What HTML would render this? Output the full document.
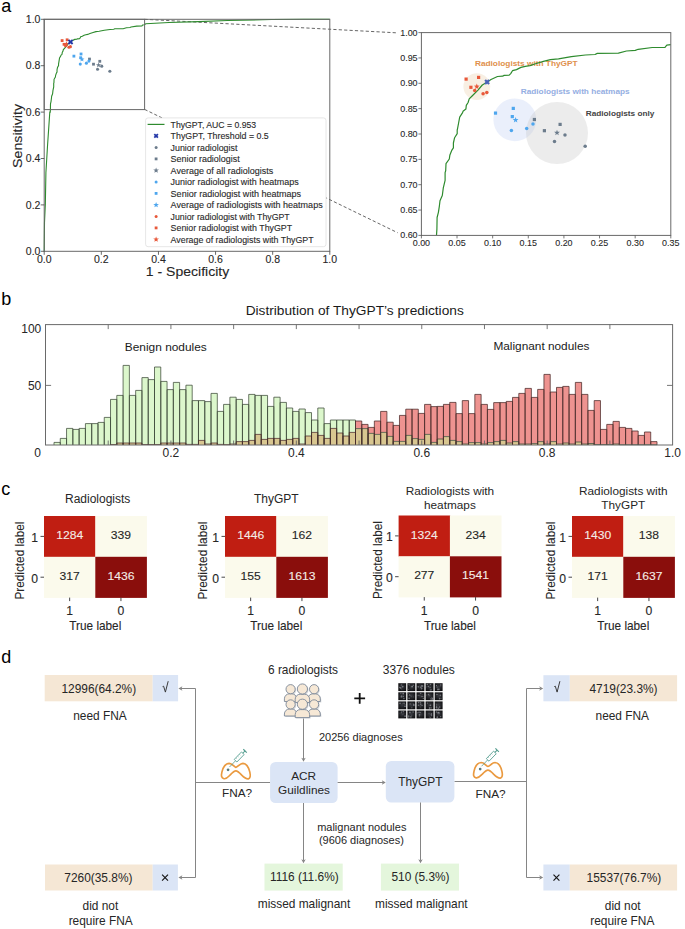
<!DOCTYPE html>
<html><head><meta charset="utf-8"><style>
html,body{margin:0;padding:0;background:#fff;}
svg{display:block;}
text{font-family:"Liberation Sans", sans-serif;}
</style></head><body>
<svg width="685" height="929" viewBox="0 0 685 929">
<rect width="685" height="929" fill="#fff"/>
<text x="1.20" y="11.70" font-size="18" fill="#000" >a</text>
<text x="1.20" y="305.30" font-size="18" fill="#000" >b</text>
<text x="1.20" y="495.30" font-size="18" fill="#000" >c</text>
<text x="1.20" y="663.30" font-size="18" fill="#000" >d</text>
<line x1="144.60" y1="19.30" x2="398.00" y2="32.90" stroke="#555" stroke-width="0.9" stroke-dasharray="3.2,2.2"/>
<line x1="144.60" y1="109.40" x2="397.60" y2="232.70" stroke="#555" stroke-width="0.9" stroke-dasharray="3.2,2.2"/>
<polyline points="44.20,251.30 44.49,222.76 45.34,203.97 45.91,172.65 47.54,145.51 49.80,112.10 50.25,112.10 50.41,109.22 50.49,103.91 51.01,101.53 51.41,98.56 51.65,96.22 52.58,93.84 52.98,90.32 53.70,86.89 53.70,83.36 53.94,82.54 54.06,79.29 55.38,77.14 55.62,75.26 56.42,73.07 57.03,72.01 57.03,69.82 57.51,67.39 58.55,65.52 58.55,63.87 58.67,63.32 59.11,60.67 59.55,57.97 60.71,55.95 60.87,55.31 62.04,54.31 62.20,52.61 62.92,51.29 63.36,49.64 64.52,48.31 66.89,45.61 68.61,43.28 70.61,41.91 72.10,40.76 74.70,39.39 76.75,39.25 77.35,38.89 79.39,38.75 79.99,38.06 80.71,36.73 82.32,36.23 84.08,35.22 85.84,34.72 87.73,34.40 89.93,33.58 93.10,32.48 95.90,31.66 99.15,31.29 104.32,30.33 109.93,29.55 113.78,29.32 114.70,28.82 123.16,28.68 126.40,27.72 129.93,27.45 131.09,26.94 136.71,26.12 141.84,26.03 142.56,25.07 144.20,24.79 145.87,23.71 169.01,22.55 198.42,21.62 227.56,20.46 271.54,19.53 303.52,19.30 329.80,19.30" fill="none" stroke="#2e8b2e" stroke-width="1.1"/>
<rect x="44.2" y="19.3" width="100.4" height="90.3" fill="none" stroke="#686868" stroke-width="1"/>
<rect x="44.20" y="19.30" width="285.60" height="232.00" fill="none" stroke="#686868" stroke-width="1" rx="0" />
<line x1="44.20" y1="251.30" x2="44.20" y2="254.80" stroke="#444" stroke-width="0.8" />
<line x1="40.70" y1="251.30" x2="44.20" y2="251.30" stroke="#444" stroke-width="0.8" />
<text x="44.20" y="262.60" font-size="10.6" text-anchor="middle" textLength="14.60" lengthAdjust="spacingAndGlyphs" fill="#262626" stroke="#262626" stroke-width="0.1">0.0</text>
<text x="40.40" y="255.00" font-size="10.6" text-anchor="end" textLength="14.60" lengthAdjust="spacingAndGlyphs" fill="#262626" stroke="#262626" stroke-width="0.1">0.0</text>
<line x1="101.32" y1="251.30" x2="101.32" y2="254.80" stroke="#444" stroke-width="0.8" />
<line x1="40.70" y1="204.90" x2="44.20" y2="204.90" stroke="#444" stroke-width="0.8" />
<text x="101.32" y="262.60" font-size="10.6" text-anchor="middle" textLength="14.60" lengthAdjust="spacingAndGlyphs" fill="#262626" stroke="#262626" stroke-width="0.1">0.2</text>
<text x="40.40" y="208.60" font-size="10.6" text-anchor="end" textLength="14.60" lengthAdjust="spacingAndGlyphs" fill="#262626" stroke="#262626" stroke-width="0.1">0.2</text>
<line x1="158.44" y1="251.30" x2="158.44" y2="254.80" stroke="#444" stroke-width="0.8" />
<line x1="40.70" y1="158.50" x2="44.20" y2="158.50" stroke="#444" stroke-width="0.8" />
<text x="158.44" y="262.60" font-size="10.6" text-anchor="middle" textLength="14.60" lengthAdjust="spacingAndGlyphs" fill="#262626" stroke="#262626" stroke-width="0.1">0.4</text>
<text x="40.40" y="162.20" font-size="10.6" text-anchor="end" textLength="14.60" lengthAdjust="spacingAndGlyphs" fill="#262626" stroke="#262626" stroke-width="0.1">0.4</text>
<line x1="215.56" y1="251.30" x2="215.56" y2="254.80" stroke="#444" stroke-width="0.8" />
<line x1="40.70" y1="112.10" x2="44.20" y2="112.10" stroke="#444" stroke-width="0.8" />
<text x="215.56" y="262.60" font-size="10.6" text-anchor="middle" textLength="14.60" lengthAdjust="spacingAndGlyphs" fill="#262626" stroke="#262626" stroke-width="0.1">0.6</text>
<text x="40.40" y="115.80" font-size="10.6" text-anchor="end" textLength="14.60" lengthAdjust="spacingAndGlyphs" fill="#262626" stroke="#262626" stroke-width="0.1">0.6</text>
<line x1="272.68" y1="251.30" x2="272.68" y2="254.80" stroke="#444" stroke-width="0.8" />
<line x1="40.70" y1="65.70" x2="44.20" y2="65.70" stroke="#444" stroke-width="0.8" />
<text x="272.68" y="262.60" font-size="10.6" text-anchor="middle" textLength="14.60" lengthAdjust="spacingAndGlyphs" fill="#262626" stroke="#262626" stroke-width="0.1">0.8</text>
<text x="40.40" y="69.40" font-size="10.6" text-anchor="end" textLength="14.60" lengthAdjust="spacingAndGlyphs" fill="#262626" stroke="#262626" stroke-width="0.1">0.8</text>
<line x1="329.80" y1="251.30" x2="329.80" y2="254.80" stroke="#444" stroke-width="0.8" />
<line x1="40.70" y1="19.30" x2="44.20" y2="19.30" stroke="#444" stroke-width="0.8" />
<text x="329.80" y="262.60" font-size="10.6" text-anchor="middle" textLength="14.60" lengthAdjust="spacingAndGlyphs" fill="#262626" stroke="#262626" stroke-width="0.1">1.0</text>
<text x="40.40" y="23.00" font-size="10.6" text-anchor="end" textLength="14.60" lengthAdjust="spacingAndGlyphs" fill="#262626" stroke="#262626" stroke-width="0.1">1.0</text>
<text x="187.50" y="275.70" font-size="13.2" text-anchor="middle" textLength="83.50" lengthAdjust="spacingAndGlyphs" fill="#262626" stroke="#262626" stroke-width="0.1">1 - Specificity</text>
<text x="22.20" y="136.00" font-size="13.2" text-anchor="middle" textLength="64.00" lengthAdjust="spacingAndGlyphs" transform="rotate(-90 22.20 136.00)" fill="#262626" stroke="#262626" stroke-width="0.1">Sensitivity</text>
<rect x="88.09" y="57.66" width="2.80" height="2.80" fill="#6c7c8c" stroke="none" stroke-width="0" rx="0" />
<rect x="92.10" y="62.79" width="2.80" height="2.80" fill="#6c7c8c" stroke="none" stroke-width="0" rx="0" />
<rect x="98.39" y="59.91" width="2.80" height="2.80" fill="#6c7c8c" stroke="none" stroke-width="0" rx="0" />
<circle cx="101.76" cy="66.16" r="1.54" fill="#6c7c8c"/>
<circle cx="97.55" cy="69.18" r="1.54" fill="#6c7c8c"/>
<circle cx="109.85" cy="71.33" r="1.54" fill="#6c7c8c"/>
<path d="M98.55,62.49 L99.21,64.25 L101.08,64.33 L99.61,65.50 L100.11,67.30 L98.55,66.27 L96.99,67.30 L97.49,65.50 L96.02,64.33 L97.89,64.25Z" fill="#6c7c8c"/>
<rect x="72.50" y="54.74" width="2.80" height="2.80" fill="#4ea6ee" stroke="none" stroke-width="0" rx="0" />
<rect x="79.63" y="52.59" width="2.80" height="2.80" fill="#4ea6ee" stroke="none" stroke-width="0" rx="0" />
<rect x="79.23" y="56.34" width="2.80" height="2.80" fill="#4ea6ee" stroke="none" stroke-width="0" rx="0" />
<circle cx="80.27" cy="64.10" r="1.54" fill="#4ea6ee"/>
<circle cx="86.40" cy="63.14" r="1.54" fill="#4ea6ee"/>
<circle cx="88.93" cy="61.12" r="1.54" fill="#4ea6ee"/>
<path d="M81.96,56.63 L82.61,58.39 L84.49,58.47 L83.02,59.64 L83.52,61.45 L81.96,60.41 L80.39,61.45 L80.89,59.64 L79.43,58.47 L81.30,58.39Z" fill="#4ea6ee"/>
<rect x="60.72" y="39.18" width="2.80" height="2.80" fill="#e8583a" stroke="none" stroke-width="0" rx="0" />
<rect x="65.73" y="38.40" width="2.80" height="2.80" fill="#e8583a" stroke="none" stroke-width="0" rx="0" />
<rect x="62.64" y="42.93" width="2.80" height="2.80" fill="#e8583a" stroke="none" stroke-width="0" rx="0" />
<circle cx="65.56" cy="45.79" r="1.54" fill="#e8583a"/>
<circle cx="68.93" cy="47.26" r="1.54" fill="#e8583a"/>
<circle cx="70.41" cy="46.66" r="1.54" fill="#e8583a"/>
<path d="M66.40,41.35 L67.06,43.11 L68.93,43.19 L67.47,44.36 L67.97,46.16 L66.40,45.13 L64.84,46.16 L65.34,44.36 L63.87,43.19 L65.75,43.11Z" fill="#e8583a"/>
<path d="M68.43,39.81 L72.63,44.01 M72.63,39.81 L68.43,44.01" stroke="#2438a8" stroke-width="1.9"/>
<rect x="145.6" y="117.9" width="180.4" height="128.8" rx="2.5" fill="#fff" fill-opacity="1" stroke="#e0e0e0" stroke-width="0.8"/>
<text x="170.60" y="127.60" font-size="9.0" textLength="85.60" lengthAdjust="spacingAndGlyphs" fill="#2a2a2a" stroke="#2a2a2a" stroke-width="0.12">ThyGPT, AUC = 0.953</text>
<line x1="147.60" y1="124.40" x2="164.50" y2="124.40" stroke="#2e8b2e" stroke-width="1.2" />
<text x="170.60" y="139.10" font-size="9.0" textLength="98.17" lengthAdjust="spacingAndGlyphs" fill="#2a2a2a" stroke="#2a2a2a" stroke-width="0.12">ThyGPT, Threshold = 0.5</text>
<path d="M154.30,134.10 L157.90,137.70 M157.90,134.10 L154.30,137.70" stroke="#2438a8" stroke-width="1.8"/>
<text x="170.60" y="150.60" font-size="9.0" textLength="66.75" lengthAdjust="spacingAndGlyphs" fill="#2a2a2a" stroke="#2a2a2a" stroke-width="0.12">Junior radiologist</text>
<circle cx="156.1" cy="147.40" r="1.5" fill="#6c7c8c"/>
<text x="170.60" y="162.10" font-size="9.0" textLength="69.14" lengthAdjust="spacingAndGlyphs" fill="#2a2a2a" stroke="#2a2a2a" stroke-width="0.12">Senior radiologist</text>
<rect x="154.70" y="157.50" width="2.80" height="2.80" fill="#6c7c8c" stroke="none" stroke-width="0" rx="0" />
<text x="170.60" y="173.60" font-size="9.0" textLength="102.66" lengthAdjust="spacingAndGlyphs" fill="#2a2a2a" stroke="#2a2a2a" stroke-width="0.12">Average of all radiologists</text>
<path d="M156.10,167.40 L156.84,169.38 L158.95,169.47 L157.30,170.79 L157.86,172.83 L156.10,171.66 L154.34,172.83 L154.90,170.79 L153.25,169.47 L155.36,169.38Z" fill="#6c7c8c"/>
<text x="170.60" y="185.10" font-size="9.0" textLength="128.11" lengthAdjust="spacingAndGlyphs" fill="#2a2a2a" stroke="#2a2a2a" stroke-width="0.12">Junior radiologist with heatmaps</text>
<circle cx="156.1" cy="181.90" r="1.5" fill="#4ea6ee"/>
<text x="170.60" y="196.60" font-size="9.0" textLength="130.50" lengthAdjust="spacingAndGlyphs" fill="#2a2a2a" stroke="#2a2a2a" stroke-width="0.12">Senior radiologist with heatmaps</text>
<rect x="154.70" y="192.00" width="2.80" height="2.80" fill="#4ea6ee" stroke="none" stroke-width="0" rx="0" />
<text x="170.60" y="208.10" font-size="9.0" textLength="152.05" lengthAdjust="spacingAndGlyphs" fill="#2a2a2a" stroke="#2a2a2a" stroke-width="0.12">Average of radiologists with heatmaps</text>
<path d="M156.10,201.90 L156.84,203.88 L158.95,203.97 L157.30,205.29 L157.86,207.33 L156.10,206.16 L154.34,207.33 L154.90,205.29 L153.25,203.97 L155.36,203.88Z" fill="#4ea6ee"/>
<text x="170.60" y="219.60" font-size="9.0" textLength="119.13" lengthAdjust="spacingAndGlyphs" fill="#2a2a2a" stroke="#2a2a2a" stroke-width="0.12">Junior radiologist with ThyGPT</text>
<circle cx="156.1" cy="216.40" r="1.5" fill="#e8583a"/>
<text x="170.60" y="231.10" font-size="9.0" textLength="121.52" lengthAdjust="spacingAndGlyphs" fill="#2a2a2a" stroke="#2a2a2a" stroke-width="0.12">Senior radiologist with ThyGPT</text>
<rect x="154.70" y="226.50" width="2.80" height="2.80" fill="#e8583a" stroke="none" stroke-width="0" rx="0" />
<text x="170.60" y="242.60" font-size="9.0" textLength="143.07" lengthAdjust="spacingAndGlyphs" fill="#2a2a2a" stroke="#2a2a2a" stroke-width="0.12">Average of radiologists with ThyGPT</text>
<path d="M156.10,236.40 L156.84,238.38 L158.95,238.47 L157.30,239.79 L157.86,241.83 L156.10,240.66 L154.34,241.83 L154.90,239.79 L153.25,238.47 L155.36,238.38Z" fill="#e8583a"/>
<clipPath id="ic"><rect x="421.4" y="32.6" width="249.4" height="202.8"/></clipPath>
<g clip-path="url(#ic)">
<circle cx="514.8" cy="119.8" r="21.4" fill="#c4d3f3" fill-opacity="0.36"/>
<circle cx="557" cy="133" r="31" fill="#c4c4c4" fill-opacity="0.32"/>
<circle cx="476.8" cy="86.6" r="13.4" fill="#f0dcc2" fill-opacity="0.45"/>
<text x="474.90" y="65.70" font-size="8.0" textLength="102.80" lengthAdjust="spacingAndGlyphs" font-weight="bold" fill="#e0904c" >Radiologists with ThyGPT</text>
<text x="520.80" y="93.90" font-size="8.0" textLength="108.80" lengthAdjust="spacingAndGlyphs" font-weight="bold" fill="#94aee2" >Radiologists with heatmaps</text>
<text x="585.70" y="116.40" font-size="8.0" textLength="68.70" lengthAdjust="spacingAndGlyphs" font-weight="bold" fill="#444" >Radiologists only</text>
<polyline points="436.50,235.40 436.90,229.10 437.10,217.50 438.40,212.30 439.40,205.80 440.00,200.70 442.30,195.50 443.30,187.80 445.10,180.30 445.10,172.60 445.70,170.80 446.00,163.70 449.30,159.00 449.90,154.90 451.90,150.10 453.40,147.80 453.40,143.00 454.60,137.70 457.20,133.60 457.20,130.00 457.50,128.80 458.60,123.00 459.70,117.10 462.60,112.70 463.00,111.30 465.90,109.10 466.30,105.40 468.10,102.50 469.20,98.90 472.10,96.00 478.00,90.10 482.30,85.00 487.30,82.00 491.00,79.50 497.50,76.50 502.60,76.20 504.10,75.40 509.20,75.10 510.70,73.60 512.50,70.70 516.50,69.60 520.90,67.40 525.30,66.30 530.00,65.60 535.50,63.80 543.40,61.40 550.40,59.60 558.50,58.80 571.40,56.70 585.40,55.00 595.00,54.50 597.30,53.40 618.40,53.10 626.50,51.00 635.30,50.40 638.20,49.30 652.20,47.50 665.00,47.30 666.80,45.20 670.90,44.60" fill="none" stroke="#2e8b2e" stroke-width="1.2" stroke-linejoin="round"/>
</g>
<rect x="532.80" y="117.90" width="3.20" height="3.20" fill="#6c7c8c" stroke="none" stroke-width="0" rx="0" />
<rect x="542.80" y="129.10" width="3.20" height="3.20" fill="#6c7c8c" stroke="none" stroke-width="0" rx="0" />
<rect x="558.50" y="122.80" width="3.20" height="3.20" fill="#6c7c8c" stroke="none" stroke-width="0" rx="0" />
<circle cx="565.00" cy="135.00" r="1.76" fill="#6c7c8c"/>
<circle cx="554.50" cy="141.60" r="1.76" fill="#6c7c8c"/>
<circle cx="585.20" cy="146.30" r="1.76" fill="#6c7c8c"/>
<path d="M557.00,129.76 L557.75,131.77 L559.89,131.86 L558.21,133.19 L558.79,135.26 L557.00,134.08 L555.21,135.26 L555.79,133.19 L554.11,131.86 L556.25,131.77Z" fill="#6c7c8c"/>
<rect x="493.90" y="111.50" width="3.20" height="3.20" fill="#4ea6ee" stroke="none" stroke-width="0" rx="0" />
<rect x="511.70" y="106.80" width="3.20" height="3.20" fill="#4ea6ee" stroke="none" stroke-width="0" rx="0" />
<rect x="510.70" y="115.00" width="3.20" height="3.20" fill="#4ea6ee" stroke="none" stroke-width="0" rx="0" />
<circle cx="511.40" cy="130.50" r="1.76" fill="#4ea6ee"/>
<circle cx="526.70" cy="128.40" r="1.76" fill="#4ea6ee"/>
<circle cx="533.00" cy="124.00" r="1.76" fill="#4ea6ee"/>
<path d="M515.60,116.96 L516.35,118.97 L518.49,119.06 L516.81,120.39 L517.39,122.46 L515.60,121.28 L513.81,122.46 L514.39,120.39 L512.71,119.06 L514.85,118.97Z" fill="#4ea6ee"/>
<rect x="464.50" y="77.50" width="3.20" height="3.20" fill="#e8583a" stroke="none" stroke-width="0" rx="0" />
<rect x="477.00" y="75.80" width="3.20" height="3.20" fill="#e8583a" stroke="none" stroke-width="0" rx="0" />
<rect x="469.30" y="85.70" width="3.20" height="3.20" fill="#e8583a" stroke="none" stroke-width="0" rx="0" />
<circle cx="474.70" cy="90.50" r="1.76" fill="#e8583a"/>
<circle cx="483.10" cy="93.70" r="1.76" fill="#e8583a"/>
<circle cx="486.80" cy="92.40" r="1.76" fill="#e8583a"/>
<path d="M476.80,83.56 L477.55,85.57 L479.69,85.66 L478.01,86.99 L478.59,89.06 L476.80,87.88 L475.01,89.06 L475.59,86.99 L473.91,85.66 L476.05,85.57Z" fill="#e8583a"/>
<path d="M485.10,80.00 L489.10,84.00 M489.10,80.00 L485.10,84.00" stroke="#4860b8" stroke-width="2.2"/>
<rect x="421.40" y="32.60" width="249.40" height="202.80" fill="none" stroke="#686868" stroke-width="1" rx="0" />
<line x1="421.40" y1="235.40" x2="421.40" y2="238.40" stroke="#555" stroke-width="0.8" />
<text x="421.40" y="245.70" font-size="8.4" text-anchor="middle" textLength="17.40" lengthAdjust="spacingAndGlyphs" fill="#262626" stroke="#262626" stroke-width="0.08">0.00</text>
<line x1="457.03" y1="235.40" x2="457.03" y2="238.40" stroke="#555" stroke-width="0.8" />
<text x="457.03" y="245.70" font-size="8.4" text-anchor="middle" textLength="17.40" lengthAdjust="spacingAndGlyphs" fill="#262626" stroke="#262626" stroke-width="0.08">0.05</text>
<line x1="492.66" y1="235.40" x2="492.66" y2="238.40" stroke="#555" stroke-width="0.8" />
<text x="492.66" y="245.70" font-size="8.4" text-anchor="middle" textLength="17.40" lengthAdjust="spacingAndGlyphs" fill="#262626" stroke="#262626" stroke-width="0.08">0.10</text>
<line x1="528.29" y1="235.40" x2="528.29" y2="238.40" stroke="#555" stroke-width="0.8" />
<text x="528.29" y="245.70" font-size="8.4" text-anchor="middle" textLength="17.40" lengthAdjust="spacingAndGlyphs" fill="#262626" stroke="#262626" stroke-width="0.08">0.15</text>
<line x1="563.91" y1="235.40" x2="563.91" y2="238.40" stroke="#555" stroke-width="0.8" />
<text x="563.91" y="245.70" font-size="8.4" text-anchor="middle" textLength="17.40" lengthAdjust="spacingAndGlyphs" fill="#262626" stroke="#262626" stroke-width="0.08">0.20</text>
<line x1="599.54" y1="235.40" x2="599.54" y2="238.40" stroke="#555" stroke-width="0.8" />
<text x="599.54" y="245.70" font-size="8.4" text-anchor="middle" textLength="17.40" lengthAdjust="spacingAndGlyphs" fill="#262626" stroke="#262626" stroke-width="0.08">0.25</text>
<line x1="635.17" y1="235.40" x2="635.17" y2="238.40" stroke="#555" stroke-width="0.8" />
<text x="635.17" y="245.70" font-size="8.4" text-anchor="middle" textLength="17.40" lengthAdjust="spacingAndGlyphs" fill="#262626" stroke="#262626" stroke-width="0.08">0.30</text>
<line x1="670.80" y1="235.40" x2="670.80" y2="238.40" stroke="#555" stroke-width="0.8" />
<text x="670.80" y="245.70" font-size="8.4" text-anchor="middle" textLength="17.40" lengthAdjust="spacingAndGlyphs" fill="#262626" stroke="#262626" stroke-width="0.08">0.35</text>
<line x1="418.40" y1="235.40" x2="421.40" y2="235.40" stroke="#555" stroke-width="0.8" />
<text x="417.60" y="238.40" font-size="8.4" text-anchor="end" textLength="17.40" lengthAdjust="spacingAndGlyphs" fill="#262626" stroke="#262626" stroke-width="0.08">0.60</text>
<line x1="418.40" y1="210.05" x2="421.40" y2="210.05" stroke="#555" stroke-width="0.8" />
<text x="417.60" y="213.05" font-size="8.4" text-anchor="end" textLength="17.40" lengthAdjust="spacingAndGlyphs" fill="#262626" stroke="#262626" stroke-width="0.08">0.65</text>
<line x1="418.40" y1="184.70" x2="421.40" y2="184.70" stroke="#555" stroke-width="0.8" />
<text x="417.60" y="187.70" font-size="8.4" text-anchor="end" textLength="17.40" lengthAdjust="spacingAndGlyphs" fill="#262626" stroke="#262626" stroke-width="0.08">0.70</text>
<line x1="418.40" y1="159.35" x2="421.40" y2="159.35" stroke="#555" stroke-width="0.8" />
<text x="417.60" y="162.35" font-size="8.4" text-anchor="end" textLength="17.40" lengthAdjust="spacingAndGlyphs" fill="#262626" stroke="#262626" stroke-width="0.08">0.75</text>
<line x1="418.40" y1="134.00" x2="421.40" y2="134.00" stroke="#555" stroke-width="0.8" />
<text x="417.60" y="137.00" font-size="8.4" text-anchor="end" textLength="17.40" lengthAdjust="spacingAndGlyphs" fill="#262626" stroke="#262626" stroke-width="0.08">0.80</text>
<line x1="418.40" y1="108.65" x2="421.40" y2="108.65" stroke="#555" stroke-width="0.8" />
<text x="417.60" y="111.65" font-size="8.4" text-anchor="end" textLength="17.40" lengthAdjust="spacingAndGlyphs" fill="#262626" stroke="#262626" stroke-width="0.08">0.85</text>
<line x1="418.40" y1="83.30" x2="421.40" y2="83.30" stroke="#555" stroke-width="0.8" />
<text x="417.60" y="86.30" font-size="8.4" text-anchor="end" textLength="17.40" lengthAdjust="spacingAndGlyphs" fill="#262626" stroke="#262626" stroke-width="0.08">0.90</text>
<line x1="418.40" y1="57.95" x2="421.40" y2="57.95" stroke="#555" stroke-width="0.8" />
<text x="417.60" y="60.95" font-size="8.4" text-anchor="end" textLength="17.40" lengthAdjust="spacingAndGlyphs" fill="#262626" stroke="#262626" stroke-width="0.08">0.95</text>
<line x1="418.40" y1="32.60" x2="421.40" y2="32.60" stroke="#555" stroke-width="0.8" />
<text x="417.60" y="35.60" font-size="8.4" text-anchor="end" textLength="17.40" lengthAdjust="spacingAndGlyphs" fill="#262626" stroke="#262626" stroke-width="0.08">1.00</text>
<rect x="54.00" y="442.40" width="6.28" height="2.60" fill="#dcf7cc" stroke="none" stroke-width="0" rx="0" />
<rect x="60.28" y="438.40" width="6.28" height="6.60" fill="#dcf7cc" stroke="none" stroke-width="0" rx="0" />
<rect x="66.56" y="428.40" width="6.28" height="16.60" fill="#dcf7cc" stroke="none" stroke-width="0" rx="0" />
<rect x="72.84" y="429.40" width="6.28" height="15.60" fill="#dcf7cc" stroke="none" stroke-width="0" rx="0" />
<rect x="79.12" y="428.40" width="6.28" height="16.60" fill="#dcf7cc" stroke="none" stroke-width="0" rx="0" />
<rect x="85.41" y="423.60" width="6.28" height="21.40" fill="#dcf7cc" stroke="none" stroke-width="0" rx="0" />
<rect x="91.69" y="423.60" width="6.28" height="21.40" fill="#dcf7cc" stroke="none" stroke-width="0" rx="0" />
<rect x="97.97" y="422.40" width="6.28" height="22.60" fill="#dcf7cc" stroke="none" stroke-width="0" rx="0" />
<rect x="104.25" y="417.40" width="6.28" height="27.60" fill="#dcf7cc" stroke="none" stroke-width="0" rx="0" />
<rect x="110.53" y="399.40" width="6.28" height="45.10" fill="#dcf7cc" stroke="none" stroke-width="0" rx="0" />
<rect x="110.53" y="444.50" width="6.28" height="0.50" fill="#d8c690" stroke="none" stroke-width="0" rx="0" />
<rect x="116.81" y="395.40" width="6.28" height="47.60" fill="#dcf7cc" stroke="none" stroke-width="0" rx="0" />
<rect x="116.81" y="443.00" width="6.28" height="2.00" fill="#d8c690" stroke="none" stroke-width="0" rx="0" />
<rect x="123.09" y="365.40" width="6.28" height="77.60" fill="#dcf7cc" stroke="none" stroke-width="0" rx="0" />
<rect x="123.09" y="443.00" width="6.28" height="2.00" fill="#d8c690" stroke="none" stroke-width="0" rx="0" />
<rect x="129.38" y="395.40" width="6.28" height="47.60" fill="#dcf7cc" stroke="none" stroke-width="0" rx="0" />
<rect x="129.38" y="443.00" width="6.28" height="2.00" fill="#d8c690" stroke="none" stroke-width="0" rx="0" />
<rect x="135.66" y="390.40" width="6.28" height="52.60" fill="#dcf7cc" stroke="none" stroke-width="0" rx="0" />
<rect x="135.66" y="443.00" width="6.28" height="2.00" fill="#d8c690" stroke="none" stroke-width="0" rx="0" />
<rect x="141.94" y="377.60" width="6.28" height="66.90" fill="#dcf7cc" stroke="none" stroke-width="0" rx="0" />
<rect x="141.94" y="444.50" width="6.28" height="0.50" fill="#d8c690" stroke="none" stroke-width="0" rx="0" />
<rect x="148.22" y="379.60" width="6.28" height="64.90" fill="#dcf7cc" stroke="none" stroke-width="0" rx="0" />
<rect x="148.22" y="444.50" width="6.28" height="0.50" fill="#d8c690" stroke="none" stroke-width="0" rx="0" />
<rect x="154.50" y="367.00" width="6.28" height="77.50" fill="#dcf7cc" stroke="none" stroke-width="0" rx="0" />
<rect x="154.50" y="444.50" width="6.28" height="0.50" fill="#d8c690" stroke="none" stroke-width="0" rx="0" />
<rect x="160.78" y="381.40" width="6.28" height="61.60" fill="#dcf7cc" stroke="none" stroke-width="0" rx="0" />
<rect x="160.78" y="443.00" width="6.28" height="2.00" fill="#d8c690" stroke="none" stroke-width="0" rx="0" />
<rect x="167.06" y="389.60" width="6.28" height="53.40" fill="#dcf7cc" stroke="none" stroke-width="0" rx="0" />
<rect x="167.06" y="443.00" width="6.28" height="2.00" fill="#d8c690" stroke="none" stroke-width="0" rx="0" />
<rect x="173.34" y="382.40" width="6.28" height="60.60" fill="#dcf7cc" stroke="none" stroke-width="0" rx="0" />
<rect x="173.34" y="443.00" width="6.28" height="2.00" fill="#d8c690" stroke="none" stroke-width="0" rx="0" />
<rect x="179.62" y="389.60" width="6.28" height="53.40" fill="#dcf7cc" stroke="none" stroke-width="0" rx="0" />
<rect x="179.62" y="443.00" width="6.28" height="2.00" fill="#d8c690" stroke="none" stroke-width="0" rx="0" />
<rect x="185.91" y="385.20" width="6.28" height="59.20" fill="#dcf7cc" stroke="none" stroke-width="0" rx="0" />
<rect x="185.91" y="444.40" width="6.28" height="0.60" fill="#d8c690" stroke="none" stroke-width="0" rx="0" />
<rect x="192.19" y="400.60" width="6.28" height="43.80" fill="#dcf7cc" stroke="none" stroke-width="0" rx="0" />
<rect x="192.19" y="444.40" width="6.28" height="0.60" fill="#d8c690" stroke="none" stroke-width="0" rx="0" />
<rect x="198.47" y="400.60" width="6.28" height="39.80" fill="#dcf7cc" stroke="none" stroke-width="0" rx="0" />
<rect x="198.47" y="440.40" width="6.28" height="4.60" fill="#d8c690" stroke="none" stroke-width="0" rx="0" />
<rect x="204.75" y="401.60" width="6.28" height="42.40" fill="#dcf7cc" stroke="none" stroke-width="0" rx="0" />
<rect x="204.75" y="444.00" width="6.28" height="1.00" fill="#d8c690" stroke="none" stroke-width="0" rx="0" />
<rect x="211.03" y="393.40" width="6.28" height="49.60" fill="#dcf7cc" stroke="none" stroke-width="0" rx="0" />
<rect x="211.03" y="443.00" width="6.28" height="2.00" fill="#d8c690" stroke="none" stroke-width="0" rx="0" />
<rect x="217.31" y="411.40" width="6.28" height="33.00" fill="#dcf7cc" stroke="none" stroke-width="0" rx="0" />
<rect x="217.31" y="444.40" width="6.28" height="0.60" fill="#d8c690" stroke="none" stroke-width="0" rx="0" />
<rect x="223.59" y="404.40" width="6.28" height="40.20" fill="#dcf7cc" stroke="none" stroke-width="0" rx="0" />
<rect x="223.59" y="444.60" width="6.28" height="0.40" fill="#d8c690" stroke="none" stroke-width="0" rx="0" />
<rect x="229.88" y="397.20" width="6.28" height="46.80" fill="#dcf7cc" stroke="none" stroke-width="0" rx="0" />
<rect x="229.88" y="444.00" width="6.28" height="1.00" fill="#d8c690" stroke="none" stroke-width="0" rx="0" />
<rect x="236.16" y="399.40" width="6.28" height="42.20" fill="#dcf7cc" stroke="none" stroke-width="0" rx="0" />
<rect x="236.16" y="441.60" width="6.28" height="3.40" fill="#d8c690" stroke="none" stroke-width="0" rx="0" />
<rect x="242.44" y="404.40" width="6.28" height="37.20" fill="#dcf7cc" stroke="none" stroke-width="0" rx="0" />
<rect x="242.44" y="441.60" width="6.28" height="3.40" fill="#d8c690" stroke="none" stroke-width="0" rx="0" />
<rect x="248.72" y="394.40" width="6.28" height="46.00" fill="#dcf7cc" stroke="none" stroke-width="0" rx="0" />
<rect x="248.72" y="440.40" width="6.28" height="4.60" fill="#d8c690" stroke="none" stroke-width="0" rx="0" />
<rect x="255.00" y="395.40" width="6.28" height="39.00" fill="#dcf7cc" stroke="none" stroke-width="0" rx="0" />
<rect x="255.00" y="434.40" width="6.28" height="10.60" fill="#d8c690" stroke="none" stroke-width="0" rx="0" />
<rect x="261.28" y="395.40" width="6.28" height="44.00" fill="#dcf7cc" stroke="none" stroke-width="0" rx="0" />
<rect x="261.28" y="439.40" width="6.28" height="5.60" fill="#d8c690" stroke="none" stroke-width="0" rx="0" />
<rect x="267.56" y="406.40" width="6.28" height="32.00" fill="#dcf7cc" stroke="none" stroke-width="0" rx="0" />
<rect x="267.56" y="438.40" width="6.28" height="6.60" fill="#d8c690" stroke="none" stroke-width="0" rx="0" />
<rect x="273.84" y="397.20" width="6.28" height="41.20" fill="#dcf7cc" stroke="none" stroke-width="0" rx="0" />
<rect x="273.84" y="438.40" width="6.28" height="6.60" fill="#d8c690" stroke="none" stroke-width="0" rx="0" />
<rect x="280.12" y="402.40" width="6.28" height="38.00" fill="#dcf7cc" stroke="none" stroke-width="0" rx="0" />
<rect x="280.12" y="440.40" width="6.28" height="4.60" fill="#d8c690" stroke="none" stroke-width="0" rx="0" />
<rect x="286.41" y="408.00" width="6.28" height="31.40" fill="#dcf7cc" stroke="none" stroke-width="0" rx="0" />
<rect x="286.41" y="439.40" width="6.28" height="5.60" fill="#d8c690" stroke="none" stroke-width="0" rx="0" />
<rect x="292.69" y="411.40" width="6.28" height="27.00" fill="#dcf7cc" stroke="none" stroke-width="0" rx="0" />
<rect x="292.69" y="438.40" width="6.28" height="6.60" fill="#d8c690" stroke="none" stroke-width="0" rx="0" />
<rect x="298.97" y="409.00" width="6.28" height="35.00" fill="#dcf7cc" stroke="none" stroke-width="0" rx="0" />
<rect x="298.97" y="444.00" width="6.28" height="1.00" fill="#d8c690" stroke="none" stroke-width="0" rx="0" />
<rect x="305.25" y="412.60" width="6.28" height="23.40" fill="#dcf7cc" stroke="none" stroke-width="0" rx="0" />
<rect x="305.25" y="436.00" width="6.28" height="9.00" fill="#d8c690" stroke="none" stroke-width="0" rx="0" />
<rect x="311.53" y="420.00" width="6.28" height="12.40" fill="#dcf7cc" stroke="none" stroke-width="0" rx="0" />
<rect x="311.53" y="432.40" width="6.28" height="12.60" fill="#d8c690" stroke="none" stroke-width="0" rx="0" />
<rect x="317.81" y="408.00" width="6.28" height="27.40" fill="#dcf7cc" stroke="none" stroke-width="0" rx="0" />
<rect x="317.81" y="435.40" width="6.28" height="9.60" fill="#d8c690" stroke="none" stroke-width="0" rx="0" />
<rect x="324.09" y="423.60" width="6.28" height="14.80" fill="#dcf7cc" stroke="none" stroke-width="0" rx="0" />
<rect x="324.09" y="438.40" width="6.28" height="6.60" fill="#d8c690" stroke="none" stroke-width="0" rx="0" />
<rect x="330.38" y="420.00" width="6.28" height="8.40" fill="#dcf7cc" stroke="none" stroke-width="0" rx="0" />
<rect x="330.38" y="428.40" width="6.28" height="16.60" fill="#d8c690" stroke="none" stroke-width="0" rx="0" />
<rect x="336.66" y="420.00" width="6.28" height="13.00" fill="#dcf7cc" stroke="none" stroke-width="0" rx="0" />
<rect x="336.66" y="433.00" width="6.28" height="12.00" fill="#d8c690" stroke="none" stroke-width="0" rx="0" />
<rect x="342.94" y="420.00" width="6.28" height="16.00" fill="#dcf7cc" stroke="none" stroke-width="0" rx="0" />
<rect x="342.94" y="436.00" width="6.28" height="9.00" fill="#d8c690" stroke="none" stroke-width="0" rx="0" />
<rect x="349.22" y="420.00" width="6.28" height="12.40" fill="#dcf7cc" stroke="none" stroke-width="0" rx="0" />
<rect x="349.22" y="432.40" width="6.28" height="12.60" fill="#d8c690" stroke="none" stroke-width="0" rx="0" />
<rect x="355.50" y="421.00" width="6.28" height="7.60" fill="#ee9390" stroke="none" stroke-width="0" rx="0" />
<rect x="355.50" y="428.60" width="6.28" height="16.40" fill="#d8c690" stroke="none" stroke-width="0" rx="0" />
<rect x="361.78" y="424.40" width="6.28" height="4.20" fill="#ee9390" stroke="none" stroke-width="0" rx="0" />
<rect x="361.78" y="428.60" width="6.28" height="16.40" fill="#d8c690" stroke="none" stroke-width="0" rx="0" />
<rect x="368.06" y="427.40" width="6.28" height="6.00" fill="#ee9390" stroke="none" stroke-width="0" rx="0" />
<rect x="368.06" y="433.40" width="6.28" height="11.60" fill="#d8c690" stroke="none" stroke-width="0" rx="0" />
<rect x="374.34" y="421.00" width="6.28" height="13.40" fill="#ee9390" stroke="none" stroke-width="0" rx="0" />
<rect x="374.34" y="434.40" width="6.28" height="10.60" fill="#d8c690" stroke="none" stroke-width="0" rx="0" />
<rect x="380.62" y="411.40" width="6.28" height="21.00" fill="#ee9390" stroke="none" stroke-width="0" rx="0" />
<rect x="380.62" y="432.40" width="6.28" height="12.60" fill="#d8c690" stroke="none" stroke-width="0" rx="0" />
<rect x="386.91" y="422.20" width="6.28" height="14.20" fill="#ee9390" stroke="none" stroke-width="0" rx="0" />
<rect x="386.91" y="436.40" width="6.28" height="8.60" fill="#d8c690" stroke="none" stroke-width="0" rx="0" />
<rect x="393.19" y="425.40" width="6.28" height="16.00" fill="#ee9390" stroke="none" stroke-width="0" rx="0" />
<rect x="393.19" y="441.40" width="6.28" height="3.60" fill="#d8c690" stroke="none" stroke-width="0" rx="0" />
<rect x="399.47" y="415.40" width="6.28" height="26.00" fill="#ee9390" stroke="none" stroke-width="0" rx="0" />
<rect x="399.47" y="441.40" width="6.28" height="3.60" fill="#d8c690" stroke="none" stroke-width="0" rx="0" />
<rect x="405.75" y="409.20" width="6.28" height="26.20" fill="#ee9390" stroke="none" stroke-width="0" rx="0" />
<rect x="405.75" y="435.40" width="6.28" height="9.60" fill="#d8c690" stroke="none" stroke-width="0" rx="0" />
<rect x="412.03" y="409.20" width="6.28" height="29.40" fill="#ee9390" stroke="none" stroke-width="0" rx="0" />
<rect x="412.03" y="438.60" width="6.28" height="6.40" fill="#d8c690" stroke="none" stroke-width="0" rx="0" />
<rect x="418.31" y="413.40" width="6.28" height="26.00" fill="#ee9390" stroke="none" stroke-width="0" rx="0" />
<rect x="418.31" y="439.40" width="6.28" height="5.60" fill="#d8c690" stroke="none" stroke-width="0" rx="0" />
<rect x="424.59" y="404.40" width="6.28" height="30.00" fill="#ee9390" stroke="none" stroke-width="0" rx="0" />
<rect x="424.59" y="434.40" width="6.28" height="10.60" fill="#d8c690" stroke="none" stroke-width="0" rx="0" />
<rect x="430.88" y="406.60" width="6.28" height="35.80" fill="#ee9390" stroke="none" stroke-width="0" rx="0" />
<rect x="430.88" y="442.40" width="6.28" height="2.60" fill="#d8c690" stroke="none" stroke-width="0" rx="0" />
<rect x="437.16" y="406.40" width="6.28" height="32.60" fill="#ee9390" stroke="none" stroke-width="0" rx="0" />
<rect x="437.16" y="439.00" width="6.28" height="6.00" fill="#d8c690" stroke="none" stroke-width="0" rx="0" />
<rect x="443.44" y="404.40" width="6.28" height="32.20" fill="#ee9390" stroke="none" stroke-width="0" rx="0" />
<rect x="443.44" y="436.60" width="6.28" height="8.40" fill="#d8c690" stroke="none" stroke-width="0" rx="0" />
<rect x="449.72" y="402.40" width="6.28" height="38.00" fill="#ee9390" stroke="none" stroke-width="0" rx="0" />
<rect x="449.72" y="440.40" width="6.28" height="4.60" fill="#d8c690" stroke="none" stroke-width="0" rx="0" />
<rect x="456.00" y="413.60" width="6.28" height="28.00" fill="#ee9390" stroke="none" stroke-width="0" rx="0" />
<rect x="456.00" y="441.60" width="6.28" height="3.40" fill="#d8c690" stroke="none" stroke-width="0" rx="0" />
<rect x="462.28" y="400.60" width="6.28" height="43.40" fill="#ee9390" stroke="none" stroke-width="0" rx="0" />
<rect x="462.28" y="444.00" width="6.28" height="1.00" fill="#d8c690" stroke="none" stroke-width="0" rx="0" />
<rect x="468.56" y="413.60" width="6.28" height="29.00" fill="#ee9390" stroke="none" stroke-width="0" rx="0" />
<rect x="468.56" y="442.60" width="6.28" height="2.40" fill="#d8c690" stroke="none" stroke-width="0" rx="0" />
<rect x="474.84" y="394.40" width="6.28" height="48.20" fill="#ee9390" stroke="none" stroke-width="0" rx="0" />
<rect x="474.84" y="442.60" width="6.28" height="2.40" fill="#d8c690" stroke="none" stroke-width="0" rx="0" />
<rect x="481.12" y="404.40" width="6.28" height="39.60" fill="#ee9390" stroke="none" stroke-width="0" rx="0" />
<rect x="481.12" y="444.00" width="6.28" height="1.00" fill="#d8c690" stroke="none" stroke-width="0" rx="0" />
<rect x="487.41" y="409.40" width="6.28" height="33.20" fill="#ee9390" stroke="none" stroke-width="0" rx="0" />
<rect x="487.41" y="442.60" width="6.28" height="2.40" fill="#d8c690" stroke="none" stroke-width="0" rx="0" />
<rect x="493.69" y="402.60" width="6.28" height="39.00" fill="#ee9390" stroke="none" stroke-width="0" rx="0" />
<rect x="493.69" y="441.60" width="6.28" height="3.40" fill="#d8c690" stroke="none" stroke-width="0" rx="0" />
<rect x="499.97" y="402.60" width="6.28" height="37.80" fill="#ee9390" stroke="none" stroke-width="0" rx="0" />
<rect x="499.97" y="440.40" width="6.28" height="4.60" fill="#d8c690" stroke="none" stroke-width="0" rx="0" />
<rect x="506.25" y="401.40" width="6.28" height="41.60" fill="#ee9390" stroke="none" stroke-width="0" rx="0" />
<rect x="506.25" y="443.00" width="6.28" height="2.00" fill="#d8c690" stroke="none" stroke-width="0" rx="0" />
<rect x="512.53" y="397.40" width="6.28" height="44.20" fill="#ee9390" stroke="none" stroke-width="0" rx="0" />
<rect x="512.53" y="441.60" width="6.28" height="3.40" fill="#d8c690" stroke="none" stroke-width="0" rx="0" />
<rect x="518.81" y="393.40" width="6.28" height="50.60" fill="#ee9390" stroke="none" stroke-width="0" rx="0" />
<rect x="518.81" y="444.00" width="6.28" height="1.00" fill="#d8c690" stroke="none" stroke-width="0" rx="0" />
<rect x="525.09" y="388.40" width="6.28" height="55.60" fill="#ee9390" stroke="none" stroke-width="0" rx="0" />
<rect x="525.09" y="444.00" width="6.28" height="1.00" fill="#d8c690" stroke="none" stroke-width="0" rx="0" />
<rect x="531.38" y="397.40" width="6.28" height="46.20" fill="#ee9390" stroke="none" stroke-width="0" rx="0" />
<rect x="531.38" y="443.60" width="6.28" height="1.40" fill="#d8c690" stroke="none" stroke-width="0" rx="0" />
<rect x="537.66" y="389.40" width="6.28" height="52.20" fill="#ee9390" stroke="none" stroke-width="0" rx="0" />
<rect x="537.66" y="441.60" width="6.28" height="3.40" fill="#d8c690" stroke="none" stroke-width="0" rx="0" />
<rect x="543.94" y="374.40" width="6.28" height="69.60" fill="#ee9390" stroke="none" stroke-width="0" rx="0" />
<rect x="543.94" y="444.00" width="6.28" height="1.00" fill="#d8c690" stroke="none" stroke-width="0" rx="0" />
<rect x="550.22" y="392.00" width="6.28" height="49.60" fill="#ee9390" stroke="none" stroke-width="0" rx="0" />
<rect x="550.22" y="441.60" width="6.28" height="3.40" fill="#d8c690" stroke="none" stroke-width="0" rx="0" />
<rect x="556.50" y="387.40" width="6.28" height="56.60" fill="#ee9390" stroke="none" stroke-width="0" rx="0" />
<rect x="556.50" y="444.00" width="6.28" height="1.00" fill="#d8c690" stroke="none" stroke-width="0" rx="0" />
<rect x="562.78" y="386.40" width="6.28" height="56.60" fill="#ee9390" stroke="none" stroke-width="0" rx="0" />
<rect x="562.78" y="443.00" width="6.28" height="2.00" fill="#d8c690" stroke="none" stroke-width="0" rx="0" />
<rect x="569.06" y="394.40" width="6.28" height="49.60" fill="#ee9390" stroke="none" stroke-width="0" rx="0" />
<rect x="569.06" y="444.00" width="6.28" height="1.00" fill="#d8c690" stroke="none" stroke-width="0" rx="0" />
<rect x="575.34" y="382.40" width="6.28" height="59.60" fill="#ee9390" stroke="none" stroke-width="0" rx="0" />
<rect x="575.34" y="442.00" width="6.28" height="3.00" fill="#d8c690" stroke="none" stroke-width="0" rx="0" />
<rect x="581.62" y="394.40" width="6.28" height="49.60" fill="#ee9390" stroke="none" stroke-width="0" rx="0" />
<rect x="581.62" y="444.00" width="6.28" height="1.00" fill="#d8c690" stroke="none" stroke-width="0" rx="0" />
<rect x="587.91" y="410.40" width="6.28" height="33.10" fill="#ee9390" stroke="none" stroke-width="0" rx="0" />
<rect x="587.91" y="443.50" width="6.28" height="1.50" fill="#d8c690" stroke="none" stroke-width="0" rx="0" />
<rect x="594.19" y="400.60" width="6.28" height="43.90" fill="#ee9390" stroke="none" stroke-width="0" rx="0" />
<rect x="594.19" y="444.50" width="6.28" height="0.50" fill="#d8c690" stroke="none" stroke-width="0" rx="0" />
<rect x="600.47" y="429.40" width="6.28" height="15.10" fill="#ee9390" stroke="none" stroke-width="0" rx="0" />
<rect x="600.47" y="444.50" width="6.28" height="0.50" fill="#d8c690" stroke="none" stroke-width="0" rx="0" />
<rect x="606.75" y="424.40" width="6.28" height="20.10" fill="#ee9390" stroke="none" stroke-width="0" rx="0" />
<rect x="606.75" y="444.50" width="6.28" height="0.50" fill="#d8c690" stroke="none" stroke-width="0" rx="0" />
<rect x="613.03" y="421.40" width="6.28" height="22.60" fill="#ee9390" stroke="none" stroke-width="0" rx="0" />
<rect x="613.03" y="444.00" width="6.28" height="1.00" fill="#d8c690" stroke="none" stroke-width="0" rx="0" />
<rect x="619.31" y="427.40" width="6.28" height="17.30" fill="#ee9390" stroke="none" stroke-width="0" rx="0" />
<rect x="619.31" y="444.70" width="6.28" height="0.30" fill="#d8c690" stroke="none" stroke-width="0" rx="0" />
<rect x="625.59" y="428.40" width="6.28" height="16.30" fill="#ee9390" stroke="none" stroke-width="0" rx="0" />
<rect x="625.59" y="444.70" width="6.28" height="0.30" fill="#d8c690" stroke="none" stroke-width="0" rx="0" />
<rect x="631.88" y="431.00" width="6.28" height="13.70" fill="#ee9390" stroke="none" stroke-width="0" rx="0" />
<rect x="631.88" y="444.70" width="6.28" height="0.30" fill="#d8c690" stroke="none" stroke-width="0" rx="0" />
<rect x="638.16" y="435.40" width="6.28" height="9.30" fill="#ee9390" stroke="none" stroke-width="0" rx="0" />
<rect x="638.16" y="444.70" width="6.28" height="0.30" fill="#d8c690" stroke="none" stroke-width="0" rx="0" />
<rect x="644.44" y="432.00" width="6.28" height="12.70" fill="#ee9390" stroke="none" stroke-width="0" rx="0" />
<rect x="644.44" y="444.70" width="6.28" height="0.30" fill="#d8c690" stroke="none" stroke-width="0" rx="0" />
<rect x="650.72" y="441.60" width="6.28" height="3.10" fill="#ee9390" stroke="none" stroke-width="0" rx="0" />
<rect x="650.72" y="444.70" width="6.28" height="0.30" fill="#d8c690" stroke="none" stroke-width="0" rx="0" />
<path d="M54.00,445.0 V442.40 H60.28 V445.0 M60.28,445.0 V438.40 H66.56 V445.0 M66.56,445.0 V428.40 H72.84 V445.0 M72.84,445.0 V429.40 H79.12 V445.0 M79.12,445.0 V428.40 H85.41 V445.0 M85.41,445.0 V423.60 H91.69 V445.0 M91.69,445.0 V423.60 H97.97 V445.0 M97.97,445.0 V422.40 H104.25 V445.0 M104.25,445.0 V417.40 H110.53 V445.0 M110.53,445.0 V399.40 H116.81 V445.0 M116.81,445.0 V395.40 H123.09 V445.0 M123.09,445.0 V365.40 H129.38 V445.0 M129.38,445.0 V395.40 H135.66 V445.0 M135.66,445.0 V390.40 H141.94 V445.0 M141.94,445.0 V377.60 H148.22 V445.0 M148.22,445.0 V379.60 H154.50 V445.0 M154.50,445.0 V367.00 H160.78 V445.0 M160.78,445.0 V381.40 H167.06 V445.0 M167.06,445.0 V389.60 H173.34 V445.0 M173.34,445.0 V382.40 H179.62 V445.0 M179.62,445.0 V389.60 H185.91 V445.0 M185.91,445.0 V385.20 H192.19 V445.0 M192.19,445.0 V400.60 H198.47 V445.0 M198.47,445.0 V400.60 H204.75 V445.0 M204.75,445.0 V401.60 H211.03 V445.0 M211.03,445.0 V393.40 H217.31 V445.0 M217.31,445.0 V411.40 H223.59 V445.0 M223.59,445.0 V404.40 H229.88 V445.0 M229.88,445.0 V397.20 H236.16 V445.0 M236.16,445.0 V399.40 H242.44 V445.0 M242.44,445.0 V404.40 H248.72 V445.0 M248.72,445.0 V394.40 H255.00 V445.0 M255.00,445.0 V395.40 H261.28 V445.0 M261.28,445.0 V395.40 H267.56 V445.0 M267.56,445.0 V406.40 H273.84 V445.0 M273.84,445.0 V397.20 H280.12 V445.0 M280.12,445.0 V402.40 H286.41 V445.0 M286.41,445.0 V408.00 H292.69 V445.0 M292.69,445.0 V411.40 H298.97 V445.0 M298.97,445.0 V409.00 H305.25 V445.0 M305.25,445.0 V412.60 H311.53 V445.0 M311.53,445.0 V420.00 H317.81 V445.0 M317.81,445.0 V408.00 H324.09 V445.0 M324.09,445.0 V423.60 H330.38 V445.0 M330.38,445.0 V420.00 H336.66 V445.0 M336.66,445.0 V420.00 H342.94 V445.0 M342.94,445.0 V420.00 H349.22 V445.0 M349.22,445.0 V420.00 H355.50 V445.0 M355.50,445.0 V428.60 H361.78 V445.0 M361.78,445.0 V428.60 H368.06 V445.0 M368.06,445.0 V433.40 H374.34 V445.0 M374.34,445.0 V434.40 H380.62 V445.0 M380.62,445.0 V432.40 H386.91 V445.0 M386.91,445.0 V436.40 H393.19 V445.0 M393.19,445.0 V441.40 H399.47 V445.0 M399.47,445.0 V441.40 H405.75 V445.0 M405.75,445.0 V435.40 H412.03 V445.0 M412.03,445.0 V438.60 H418.31 V445.0 M418.31,445.0 V439.40 H424.59 V445.0 M424.59,445.0 V434.40 H430.88 V445.0 M430.88,445.0 V442.40 H437.16 V445.0 M437.16,445.0 V439.00 H443.44 V445.0 M443.44,445.0 V436.60 H449.72 V445.0 M449.72,445.0 V440.40 H456.00 V445.0 M456.00,445.0 V441.60 H462.28 V445.0 M462.28,445.0 V444.00 H468.56 V445.0 M468.56,445.0 V442.60 H474.84 V445.0 M474.84,445.0 V442.60 H481.12 V445.0 M481.12,445.0 V444.00 H487.41 V445.0 M487.41,445.0 V442.60 H493.69 V445.0 M493.69,445.0 V441.60 H499.97 V445.0 M499.97,445.0 V440.40 H506.25 V445.0 M506.25,445.0 V443.00 H512.53 V445.0 M512.53,445.0 V441.60 H518.81 V445.0 M518.81,445.0 V444.00 H525.09 V445.0 M525.09,445.0 V444.00 H531.38 V445.0 M531.38,445.0 V443.60 H537.66 V445.0 M537.66,445.0 V441.60 H543.94 V445.0 M543.94,445.0 V444.00 H550.22 V445.0 M550.22,445.0 V441.60 H556.50 V445.0 M556.50,445.0 V444.00 H562.78 V445.0 M562.78,445.0 V443.00 H569.06 V445.0 M569.06,445.0 V444.00 H575.34 V445.0 M575.34,445.0 V442.00 H581.62 V445.0 M581.62,445.0 V444.00 H587.91 V445.0 M587.91,445.0 V443.50 H594.19 V445.0 M594.19,445.0 V444.50 H600.47 V445.0 M600.47,445.0 V444.50 H606.75 V445.0 M606.75,445.0 V444.50 H613.03 V445.0 M613.03,445.0 V444.00 H619.31 V445.0 M619.31,445.0 V444.70 H625.59 V445.0 M625.59,445.0 V444.70 H631.88 V445.0 M631.88,445.0 V444.70 H638.16 V445.0 M638.16,445.0 V444.70 H644.44 V445.0 M644.44,445.0 V444.70 H650.72 V445.0 M650.72,445.0 V444.70 H657.00 V445.0" fill="none" stroke="#3c4a38" stroke-width="0.75"/>
<path d="M110.53,445.0 V444.50 H116.81 V445.0 M116.81,445.0 V443.00 H123.09 V445.0 M123.09,445.0 V443.00 H129.38 V445.0 M129.38,445.0 V443.00 H135.66 V445.0 M135.66,445.0 V443.00 H141.94 V445.0 M141.94,445.0 V444.50 H148.22 V445.0 M148.22,445.0 V444.50 H154.50 V445.0 M154.50,445.0 V444.50 H160.78 V445.0 M160.78,445.0 V443.00 H167.06 V445.0 M167.06,445.0 V443.00 H173.34 V445.0 M173.34,445.0 V443.00 H179.62 V445.0 M179.62,445.0 V443.00 H185.91 V445.0 M185.91,445.0 V444.40 H192.19 V445.0 M192.19,445.0 V444.40 H198.47 V445.0 M198.47,445.0 V440.40 H204.75 V445.0 M204.75,445.0 V444.00 H211.03 V445.0 M211.03,445.0 V443.00 H217.31 V445.0 M217.31,445.0 V444.40 H223.59 V445.0 M223.59,445.0 V444.60 H229.88 V445.0 M229.88,445.0 V444.00 H236.16 V445.0 M236.16,445.0 V441.60 H242.44 V445.0 M242.44,445.0 V441.60 H248.72 V445.0 M248.72,445.0 V440.40 H255.00 V445.0 M255.00,445.0 V434.40 H261.28 V445.0 M261.28,445.0 V439.40 H267.56 V445.0 M267.56,445.0 V438.40 H273.84 V445.0 M273.84,445.0 V438.40 H280.12 V445.0 M280.12,445.0 V440.40 H286.41 V445.0 M286.41,445.0 V439.40 H292.69 V445.0 M292.69,445.0 V438.40 H298.97 V445.0 M298.97,445.0 V444.00 H305.25 V445.0 M305.25,445.0 V436.00 H311.53 V445.0 M311.53,445.0 V432.40 H317.81 V445.0 M317.81,445.0 V435.40 H324.09 V445.0 M324.09,445.0 V438.40 H330.38 V445.0 M330.38,445.0 V428.40 H336.66 V445.0 M336.66,445.0 V433.00 H342.94 V445.0 M342.94,445.0 V436.00 H349.22 V445.0 M349.22,445.0 V432.40 H355.50 V445.0 M355.50,445.0 V421.00 H361.78 V445.0 M361.78,445.0 V424.40 H368.06 V445.0 M368.06,445.0 V427.40 H374.34 V445.0 M374.34,445.0 V421.00 H380.62 V445.0 M380.62,445.0 V411.40 H386.91 V445.0 M386.91,445.0 V422.20 H393.19 V445.0 M393.19,445.0 V425.40 H399.47 V445.0 M399.47,445.0 V415.40 H405.75 V445.0 M405.75,445.0 V409.20 H412.03 V445.0 M412.03,445.0 V409.20 H418.31 V445.0 M418.31,445.0 V413.40 H424.59 V445.0 M424.59,445.0 V404.40 H430.88 V445.0 M430.88,445.0 V406.60 H437.16 V445.0 M437.16,445.0 V406.40 H443.44 V445.0 M443.44,445.0 V404.40 H449.72 V445.0 M449.72,445.0 V402.40 H456.00 V445.0 M456.00,445.0 V413.60 H462.28 V445.0 M462.28,445.0 V400.60 H468.56 V445.0 M468.56,445.0 V413.60 H474.84 V445.0 M474.84,445.0 V394.40 H481.12 V445.0 M481.12,445.0 V404.40 H487.41 V445.0 M487.41,445.0 V409.40 H493.69 V445.0 M493.69,445.0 V402.60 H499.97 V445.0 M499.97,445.0 V402.60 H506.25 V445.0 M506.25,445.0 V401.40 H512.53 V445.0 M512.53,445.0 V397.40 H518.81 V445.0 M518.81,445.0 V393.40 H525.09 V445.0 M525.09,445.0 V388.40 H531.38 V445.0 M531.38,445.0 V397.40 H537.66 V445.0 M537.66,445.0 V389.40 H543.94 V445.0 M543.94,445.0 V374.40 H550.22 V445.0 M550.22,445.0 V392.00 H556.50 V445.0 M556.50,445.0 V387.40 H562.78 V445.0 M562.78,445.0 V386.40 H569.06 V445.0 M569.06,445.0 V394.40 H575.34 V445.0 M575.34,445.0 V382.40 H581.62 V445.0 M581.62,445.0 V394.40 H587.91 V445.0 M587.91,445.0 V410.40 H594.19 V445.0 M594.19,445.0 V400.60 H600.47 V445.0 M600.47,445.0 V429.40 H606.75 V445.0 M606.75,445.0 V424.40 H613.03 V445.0 M613.03,445.0 V421.40 H619.31 V445.0 M619.31,445.0 V427.40 H625.59 V445.0 M625.59,445.0 V428.40 H631.88 V445.0 M631.88,445.0 V431.00 H638.16 V445.0 M638.16,445.0 V435.40 H644.44 V445.0 M644.44,445.0 V432.00 H650.72 V445.0 M650.72,445.0 V441.60 H657.00 V445.0" fill="none" stroke="#4a2a28" stroke-width="0.75"/>
<rect x="45.50" y="324.60" width="627.10" height="120.40" fill="none" stroke="#6a6a6a" stroke-width="1" rx="0" />
<line x1="108.21" y1="324.60" x2="108.21" y2="329.10" stroke="#666" stroke-width="0.9" />
<line x1="108.21" y1="445.00" x2="108.21" y2="440.50" stroke="#666" stroke-width="0.9" />
<line x1="170.92" y1="324.60" x2="170.92" y2="329.10" stroke="#666" stroke-width="0.9" />
<line x1="170.92" y1="445.00" x2="170.92" y2="440.50" stroke="#666" stroke-width="0.9" />
<line x1="233.63" y1="324.60" x2="233.63" y2="329.10" stroke="#666" stroke-width="0.9" />
<line x1="233.63" y1="445.00" x2="233.63" y2="440.50" stroke="#666" stroke-width="0.9" />
<line x1="296.34" y1="324.60" x2="296.34" y2="329.10" stroke="#666" stroke-width="0.9" />
<line x1="296.34" y1="445.00" x2="296.34" y2="440.50" stroke="#666" stroke-width="0.9" />
<line x1="359.05" y1="324.60" x2="359.05" y2="329.10" stroke="#666" stroke-width="0.9" />
<line x1="359.05" y1="445.00" x2="359.05" y2="440.50" stroke="#666" stroke-width="0.9" />
<line x1="421.76" y1="324.60" x2="421.76" y2="329.10" stroke="#666" stroke-width="0.9" />
<line x1="421.76" y1="445.00" x2="421.76" y2="440.50" stroke="#666" stroke-width="0.9" />
<line x1="484.47" y1="324.60" x2="484.47" y2="329.10" stroke="#666" stroke-width="0.9" />
<line x1="484.47" y1="445.00" x2="484.47" y2="440.50" stroke="#666" stroke-width="0.9" />
<line x1="547.18" y1="324.60" x2="547.18" y2="329.10" stroke="#666" stroke-width="0.9" />
<line x1="547.18" y1="445.00" x2="547.18" y2="440.50" stroke="#666" stroke-width="0.9" />
<line x1="609.89" y1="324.60" x2="609.89" y2="329.10" stroke="#666" stroke-width="0.9" />
<line x1="609.89" y1="445.00" x2="609.89" y2="440.50" stroke="#666" stroke-width="0.9" />
<line x1="45.50" y1="385.40" x2="51.10" y2="385.40" stroke="#666" stroke-width="0.9" />
<line x1="672.60" y1="385.40" x2="667.00" y2="385.40" stroke="#666" stroke-width="0.9" />
<text x="41.30" y="332.80" font-size="12" text-anchor="end" fill="#262626" >100</text>
<text x="41.30" y="390.40" font-size="12" text-anchor="end" fill="#262626" >50</text>
<text x="37.50" y="456.80" font-size="12" text-anchor="middle" fill="#262626" >0</text>
<text x="170.92" y="456.90" font-size="12" text-anchor="middle" fill="#262626" >0.2</text>
<text x="296.34" y="456.90" font-size="12" text-anchor="middle" fill="#262626" >0.4</text>
<text x="421.76" y="456.90" font-size="12" text-anchor="middle" fill="#262626" >0.6</text>
<text x="547.18" y="456.90" font-size="12" text-anchor="middle" fill="#262626" >0.8</text>
<text x="672.60" y="456.90" font-size="12" text-anchor="middle" fill="#262626" >1.0</text>
<text x="354.70" y="315.00" font-size="13.7" text-anchor="middle" textLength="218.10" lengthAdjust="spacingAndGlyphs" fill="#1a1a1a" >Distribution of ThyGPT’s predictions</text>
<text x="165.80" y="350.50" font-size="11.8" text-anchor="middle" textLength="82.00" lengthAdjust="spacingAndGlyphs" fill="#1a1a1a" >Benign nodules</text>
<rect x="44.00" y="516.00" width="51.60" height="41.10" fill="#c01e12" stroke="none" stroke-width="0" rx="0" />
<text x="69.65" y="539.00" font-size="11.0" text-anchor="middle" textLength="27.00" lengthAdjust="spacingAndGlyphs" fill="#f4ece6" stroke="#f4ece6" stroke-width="0.1">1284</text>
<rect x="95.30" y="516.00" width="51.60" height="41.10" fill="#fbfaec" stroke="none" stroke-width="0" rx="0" />
<text x="120.95" y="539.00" font-size="11.0" text-anchor="middle" textLength="20.25" lengthAdjust="spacingAndGlyphs" fill="#262626" stroke="#262626" stroke-width="0.1">339</text>
<rect x="44.00" y="556.80" width="51.60" height="41.10" fill="#fbfaec" stroke="none" stroke-width="0" rx="0" />
<text x="69.65" y="579.80" font-size="11.0" text-anchor="middle" textLength="20.25" lengthAdjust="spacingAndGlyphs" fill="#262626" stroke="#262626" stroke-width="0.1">317</text>
<rect x="95.30" y="556.80" width="51.60" height="41.10" fill="#8a0e0c" stroke="none" stroke-width="0" rx="0" />
<text x="120.95" y="579.80" font-size="11.0" text-anchor="middle" textLength="27.00" lengthAdjust="spacingAndGlyphs" fill="#f4ece6" stroke="#f4ece6" stroke-width="0.1">1436</text>
<text x="97.70" y="502.60" font-size="12" text-anchor="middle" fill="#262626" >Radiologists</text>
<line x1="40.50" y1="536.40" x2="44.00" y2="536.40" stroke="#333" stroke-width="0.9" />
<text x="38.10" y="541.80" font-size="12.2" text-anchor="end" fill="#262626" stroke="#262626" stroke-width="0.1">1</text>
<line x1="40.50" y1="577.20" x2="44.00" y2="577.20" stroke="#333" stroke-width="0.9" />
<text x="38.10" y="582.60" font-size="12.2" text-anchor="end" fill="#262626" stroke="#262626" stroke-width="0.1">0</text>
<line x1="69.65" y1="597.60" x2="69.65" y2="601.10" stroke="#333" stroke-width="0.9" />
<text x="69.65" y="614.50" font-size="12.2" text-anchor="middle" fill="#262626" stroke="#262626" stroke-width="0.1">1</text>
<line x1="120.95" y1="597.60" x2="120.95" y2="601.10" stroke="#333" stroke-width="0.9" />
<text x="120.95" y="614.50" font-size="12.2" text-anchor="middle" fill="#262626" stroke="#262626" stroke-width="0.1">0</text>
<text x="95.30" y="629.80" font-size="12.4" text-anchor="middle" textLength="52.00" lengthAdjust="spacingAndGlyphs" fill="#262626" stroke="#262626" stroke-width="0.1">True label</text>
<text x="24.50" y="560.60" font-size="12.0" text-anchor="middle" textLength="78.00" lengthAdjust="spacingAndGlyphs" transform="rotate(-90 24.50 560.60)" fill="#262626" stroke="#262626" stroke-width="0.1">Predicted label</text>
<rect x="225.00" y="516.00" width="51.60" height="41.10" fill="#c01e12" stroke="none" stroke-width="0" rx="0" />
<text x="250.65" y="539.00" font-size="11.0" text-anchor="middle" textLength="27.00" lengthAdjust="spacingAndGlyphs" fill="#f4ece6" stroke="#f4ece6" stroke-width="0.1">1446</text>
<rect x="276.30" y="516.00" width="51.60" height="41.10" fill="#fbfaec" stroke="none" stroke-width="0" rx="0" />
<text x="301.95" y="539.00" font-size="11.0" text-anchor="middle" textLength="20.25" lengthAdjust="spacingAndGlyphs" fill="#262626" stroke="#262626" stroke-width="0.1">162</text>
<rect x="225.00" y="556.80" width="51.60" height="41.10" fill="#fbfaec" stroke="none" stroke-width="0" rx="0" />
<text x="250.65" y="579.80" font-size="11.0" text-anchor="middle" textLength="20.25" lengthAdjust="spacingAndGlyphs" fill="#262626" stroke="#262626" stroke-width="0.1">155</text>
<rect x="276.30" y="556.80" width="51.60" height="41.10" fill="#8a0e0c" stroke="none" stroke-width="0" rx="0" />
<text x="301.95" y="579.80" font-size="11.0" text-anchor="middle" textLength="27.00" lengthAdjust="spacingAndGlyphs" fill="#f4ece6" stroke="#f4ece6" stroke-width="0.1">1613</text>
<text x="276.30" y="502.60" font-size="12" text-anchor="middle" fill="#262626" >ThyGPT</text>
<line x1="221.50" y1="536.40" x2="225.00" y2="536.40" stroke="#333" stroke-width="0.9" />
<text x="219.10" y="541.80" font-size="12.2" text-anchor="end" fill="#262626" stroke="#262626" stroke-width="0.1">1</text>
<line x1="221.50" y1="577.20" x2="225.00" y2="577.20" stroke="#333" stroke-width="0.9" />
<text x="219.10" y="582.60" font-size="12.2" text-anchor="end" fill="#262626" stroke="#262626" stroke-width="0.1">0</text>
<line x1="250.65" y1="597.60" x2="250.65" y2="601.10" stroke="#333" stroke-width="0.9" />
<text x="250.65" y="614.50" font-size="12.2" text-anchor="middle" fill="#262626" stroke="#262626" stroke-width="0.1">1</text>
<line x1="301.95" y1="597.60" x2="301.95" y2="601.10" stroke="#333" stroke-width="0.9" />
<text x="301.95" y="614.50" font-size="12.2" text-anchor="middle" fill="#262626" stroke="#262626" stroke-width="0.1">0</text>
<text x="276.30" y="629.80" font-size="12.4" text-anchor="middle" textLength="52.00" lengthAdjust="spacingAndGlyphs" fill="#262626" stroke="#262626" stroke-width="0.1">True label</text>
<text x="207.00" y="560.60" font-size="12.0" text-anchor="middle" textLength="78.00" lengthAdjust="spacingAndGlyphs" transform="rotate(-90 207.00 560.60)" fill="#262626" stroke="#262626" stroke-width="0.1">Predicted label</text>
<rect x="398.60" y="515.50" width="51.60" height="41.10" fill="#c01e12" stroke="none" stroke-width="0" rx="0" />
<text x="424.25" y="538.50" font-size="11.0" text-anchor="middle" textLength="27.00" lengthAdjust="spacingAndGlyphs" fill="#f4ece6" stroke="#f4ece6" stroke-width="0.1">1324</text>
<rect x="449.90" y="515.50" width="51.60" height="41.10" fill="#fbfaec" stroke="none" stroke-width="0" rx="0" />
<text x="475.55" y="538.50" font-size="11.0" text-anchor="middle" textLength="20.25" lengthAdjust="spacingAndGlyphs" fill="#262626" stroke="#262626" stroke-width="0.1">234</text>
<rect x="398.60" y="556.30" width="51.60" height="41.10" fill="#fbfaec" stroke="none" stroke-width="0" rx="0" />
<text x="424.25" y="579.30" font-size="11.0" text-anchor="middle" textLength="20.25" lengthAdjust="spacingAndGlyphs" fill="#262626" stroke="#262626" stroke-width="0.1">277</text>
<rect x="449.90" y="556.30" width="51.60" height="41.10" fill="#8a0e0c" stroke="none" stroke-width="0" rx="0" />
<text x="475.55" y="579.30" font-size="11.0" text-anchor="middle" textLength="27.00" lengthAdjust="spacingAndGlyphs" fill="#f4ece6" stroke="#f4ece6" stroke-width="0.1">1541</text>
<text x="449.90" y="495.00" font-size="11.8" text-anchor="middle" fill="#262626" >Radiologists with</text>
<text x="449.90" y="509.20" font-size="11.8" text-anchor="middle" fill="#262626" >heatmaps</text>
<line x1="395.10" y1="535.90" x2="398.60" y2="535.90" stroke="#333" stroke-width="0.9" />
<text x="392.70" y="541.30" font-size="12.2" text-anchor="end" fill="#262626" stroke="#262626" stroke-width="0.1">1</text>
<line x1="395.10" y1="576.70" x2="398.60" y2="576.70" stroke="#333" stroke-width="0.9" />
<text x="392.70" y="582.10" font-size="12.2" text-anchor="end" fill="#262626" stroke="#262626" stroke-width="0.1">0</text>
<line x1="424.25" y1="597.10" x2="424.25" y2="600.60" stroke="#333" stroke-width="0.9" />
<text x="424.25" y="614.50" font-size="12.2" text-anchor="middle" fill="#262626" stroke="#262626" stroke-width="0.1">1</text>
<line x1="475.55" y1="597.10" x2="475.55" y2="600.60" stroke="#333" stroke-width="0.9" />
<text x="475.55" y="614.50" font-size="12.2" text-anchor="middle" fill="#262626" stroke="#262626" stroke-width="0.1">0</text>
<text x="449.90" y="629.80" font-size="12.4" text-anchor="middle" textLength="52.00" lengthAdjust="spacingAndGlyphs" fill="#262626" stroke="#262626" stroke-width="0.1">True label</text>
<text x="382.10" y="560.10" font-size="12.0" text-anchor="middle" textLength="78.00" lengthAdjust="spacingAndGlyphs" transform="rotate(-90 382.10 560.10)" fill="#262626" stroke="#262626" stroke-width="0.1">Predicted label</text>
<rect x="572.00" y="516.00" width="51.60" height="41.10" fill="#c01e12" stroke="none" stroke-width="0" rx="0" />
<text x="597.65" y="539.00" font-size="11.0" text-anchor="middle" textLength="27.00" lengthAdjust="spacingAndGlyphs" fill="#f4ece6" stroke="#f4ece6" stroke-width="0.1">1430</text>
<rect x="623.30" y="516.00" width="51.60" height="41.10" fill="#fbfaec" stroke="none" stroke-width="0" rx="0" />
<text x="648.95" y="539.00" font-size="11.0" text-anchor="middle" textLength="20.25" lengthAdjust="spacingAndGlyphs" fill="#262626" stroke="#262626" stroke-width="0.1">138</text>
<rect x="572.00" y="556.80" width="51.60" height="41.10" fill="#fbfaec" stroke="none" stroke-width="0" rx="0" />
<text x="597.65" y="579.80" font-size="11.0" text-anchor="middle" textLength="20.25" lengthAdjust="spacingAndGlyphs" fill="#262626" stroke="#262626" stroke-width="0.1">171</text>
<rect x="623.30" y="556.80" width="51.60" height="41.10" fill="#8a0e0c" stroke="none" stroke-width="0" rx="0" />
<text x="648.95" y="579.80" font-size="11.0" text-anchor="middle" textLength="27.00" lengthAdjust="spacingAndGlyphs" fill="#f4ece6" stroke="#f4ece6" stroke-width="0.1">1637</text>
<text x="623.30" y="495.00" font-size="11.8" text-anchor="middle" fill="#262626" >Radiologists with</text>
<text x="623.30" y="509.20" font-size="11.8" text-anchor="middle" fill="#262626" >ThyGPT</text>
<line x1="568.50" y1="536.40" x2="572.00" y2="536.40" stroke="#333" stroke-width="0.9" />
<text x="566.10" y="541.80" font-size="12.2" text-anchor="end" fill="#262626" stroke="#262626" stroke-width="0.1">1</text>
<line x1="568.50" y1="577.20" x2="572.00" y2="577.20" stroke="#333" stroke-width="0.9" />
<text x="566.10" y="582.60" font-size="12.2" text-anchor="end" fill="#262626" stroke="#262626" stroke-width="0.1">0</text>
<line x1="597.65" y1="597.60" x2="597.65" y2="601.10" stroke="#333" stroke-width="0.9" />
<text x="597.65" y="614.50" font-size="12.2" text-anchor="middle" fill="#262626" stroke="#262626" stroke-width="0.1">1</text>
<line x1="648.95" y1="597.60" x2="648.95" y2="601.10" stroke="#333" stroke-width="0.9" />
<text x="648.95" y="614.50" font-size="12.2" text-anchor="middle" fill="#262626" stroke="#262626" stroke-width="0.1">0</text>
<text x="623.30" y="629.80" font-size="12.4" text-anchor="middle" textLength="52.00" lengthAdjust="spacingAndGlyphs" fill="#262626" stroke="#262626" stroke-width="0.1">True label</text>
<text x="554.90" y="560.60" font-size="12.0" text-anchor="middle" textLength="78.00" lengthAdjust="spacingAndGlyphs" transform="rotate(-90 554.90 560.60)" fill="#262626" stroke="#262626" stroke-width="0.1">Predicted label</text>
<rect x="44.70" y="675.00" width="108.00" height="26.30" fill="#f5e7d5" stroke="none" stroke-width="0" rx="0" />
<rect x="152.70" y="675.00" width="25.40" height="26.30" fill="#dbe5f6" stroke="none" stroke-width="0" rx="0" />
<text x="98.80" y="692.50" font-size="11.9" text-anchor="middle" fill="#262626" >12996(64.2%)</text>
<path d="M162.6,686.6 L163.6,686.2 L165.4,692.1 L168.2,681.2" fill="none" stroke="#333" stroke-width="0.95"/>
<text x="100.00" y="720.10" font-size="11.9" text-anchor="middle" fill="#262626" >need FNA</text>
<rect x="45.00" y="864.50" width="107.70" height="26.00" fill="#f5e7d5" stroke="none" stroke-width="0" rx="0" />
<rect x="152.70" y="864.50" width="25.20" height="26.00" fill="#dbe5f6" stroke="none" stroke-width="0" rx="0" />
<text x="98.40" y="881.80" font-size="11.9" text-anchor="middle" fill="#262626" >7260(35.8%)</text>
<path d="M162.1,874.7 L168.0,880.6 M168.0,874.7 L162.1,880.6" stroke="#151515" stroke-width="1.15"/>
<text x="100.40" y="910.20" font-size="11.9" text-anchor="middle" fill="#262626" >did not</text>
<text x="100.70" y="924.60" font-size="11.9" text-anchor="middle" fill="#262626" >require FNA</text>
<path d="M181,688.5 H195.5 V877.5 H181" fill="none" stroke="#858585" stroke-width="1"/>
<path d="M178.4,688.5 L182.4,686.3 L181.4,688.5 L182.4,690.7Z" fill="#858585"/>
<path d="M178.4,877.5 L182.4,875.3 L181.4,877.5 L182.4,879.7Z" fill="#858585"/>
<line x1="195.50" y1="782.50" x2="270.10" y2="782.50" stroke="#858585" stroke-width="1" />
<rect x="543.40" y="675.20" width="26.40" height="26.10" fill="#dbe5f6" stroke="none" stroke-width="0" rx="0" />
<rect x="569.80" y="675.20" width="107.30" height="26.10" fill="#f5e7d5" stroke="none" stroke-width="0" rx="0" />
<path d="M554.3,686.6 L555.3,686.2 L557.1,692.1 L559.9,681.2" fill="none" stroke="#333" stroke-width="0.95"/>
<text x="623.50" y="692.60" font-size="11.9" text-anchor="middle" fill="#262626" >4719(23.3%)</text>
<text x="622.30" y="719.90" font-size="11.9" text-anchor="middle" fill="#262626" >need FNA</text>
<rect x="543.40" y="864.50" width="26.40" height="26.00" fill="#dbe5f6" stroke="none" stroke-width="0" rx="0" />
<rect x="569.80" y="864.50" width="107.30" height="26.00" fill="#f5e7d5" stroke="none" stroke-width="0" rx="0" />
<path d="M553.5,874.7 L559.4,880.6 M559.4,874.7 L553.5,880.6" stroke="#151515" stroke-width="1.15"/>
<text x="623.90" y="881.80" font-size="11.9" text-anchor="middle" fill="#262626" >15537(76.7%)</text>
<text x="622.70" y="910.20" font-size="11.9" text-anchor="middle" fill="#262626" >did not</text>
<text x="622.30" y="924.60" font-size="11.9" text-anchor="middle" fill="#262626" >require FNA</text>
<path d="M540,688.5 H526.5 V877.5 H540" fill="none" stroke="#858585" stroke-width="1"/>
<path d="M543.2,688.5 L539.2,686.3 L540.2,688.5 L539.2,690.7Z" fill="#858585"/>
<path d="M543.2,877.5 L539.2,875.3 L540.2,877.5 L539.2,879.7Z" fill="#858585"/>
<line x1="454.40" y1="781.50" x2="526.50" y2="781.50" stroke="#858585" stroke-width="1" />
<text x="303.00" y="674.20" font-size="11.9" text-anchor="middle" fill="#262626" >6 radiologists</text>
<text x="418.80" y="674.20" font-size="12" text-anchor="middle" fill="#262626" >3376 nodules</text>
<text x="360.80" y="740.50" font-size="11" text-anchor="middle" fill="#262626" >20256 diagnoses</text>
<path d="M354.3,698.4 H365.1 M359.7,693 V703.8" stroke="#111" stroke-width="1.8"/>
<g transform="translate(1,1)" opacity="0.35"><circle cx="290.60" cy="689.20" r="4.60" fill="#8a9099"/><path d="M284.40,701.50 V698.80 A5.0,5.0 0 0 1 289.40,693.80 H291.80 A5.0,5.0 0 0 1 296.80,698.80 V701.50 Z" fill="#8a9099"/></g>
<g transform="translate(1,1)" opacity="0.35"><circle cx="314.10" cy="689.20" r="4.60" fill="#8a9099"/><path d="M307.90,701.50 V698.80 A5.0,5.0 0 0 1 312.90,693.80 H315.30 A5.0,5.0 0 0 1 320.30,698.80 V701.50 Z" fill="#8a9099"/></g>
<g transform="translate(1,1)" opacity="0.35"><circle cx="302.40" cy="689.00" r="5.10" fill="#8a9099"/><path d="M295.20,702.50 V699.20 A5.0,5.0 0 0 1 300.20,694.20 H304.60 A5.0,5.0 0 0 1 309.60,699.20 V702.50 Z" fill="#8a9099"/></g>
<g transform="translate(1,1)" opacity="0.35"><circle cx="290.60" cy="704.40" r="4.60" fill="#8a9099"/><path d="M284.40,716.00 V714.00 A5.0,5.0 0 0 1 289.40,709.00 H291.80 A5.0,5.0 0 0 1 296.80,714.00 V716.00 Z" fill="#8a9099"/></g>
<g transform="translate(1,1)" opacity="0.35"><circle cx="314.10" cy="704.40" r="4.60" fill="#8a9099"/><path d="M307.90,716.00 V714.00 A5.0,5.0 0 0 1 312.90,709.00 H315.30 A5.0,5.0 0 0 1 320.30,714.00 V716.00 Z" fill="#8a9099"/></g>
<g transform="translate(1,1)" opacity="0.35"><circle cx="302.40" cy="704.20" r="5.10" fill="#8a9099"/><path d="M295.20,717.60 V714.60 A5.0,5.0 0 0 1 300.20,709.60 H304.60 A5.0,5.0 0 0 1 309.60,714.60 V717.60 Z" fill="#8a9099"/></g>
<path d="M284.40,701.50 V698.80 A5.0,5.0 0 0 1 289.40,693.80 H291.80 A5.0,5.0 0 0 1 296.80,698.80 V701.50 Z" fill="#f6e8d6" stroke="#7c8898" stroke-width="0.9"/>
<circle cx="290.60" cy="689.20" r="4.60" fill="#f6e8d6" stroke="#7c8898" stroke-width="0.9"/>
<path d="M307.90,701.50 V698.80 A5.0,5.0 0 0 1 312.90,693.80 H315.30 A5.0,5.0 0 0 1 320.30,698.80 V701.50 Z" fill="#f6e8d6" stroke="#7c8898" stroke-width="0.9"/>
<circle cx="314.10" cy="689.20" r="4.60" fill="#f6e8d6" stroke="#7c8898" stroke-width="0.9"/>
<path d="M295.20,702.50 V699.20 A5.0,5.0 0 0 1 300.20,694.20 H304.60 A5.0,5.0 0 0 1 309.60,699.20 V702.50 Z" fill="#f6e8d6" stroke="#7c8898" stroke-width="0.9"/>
<circle cx="302.40" cy="689.00" r="5.10" fill="#f6e8d6" stroke="#7c8898" stroke-width="0.9"/>
<path d="M284.40,716.00 V714.00 A5.0,5.0 0 0 1 289.40,709.00 H291.80 A5.0,5.0 0 0 1 296.80,714.00 V716.00 Z" fill="#f6e8d6" stroke="#7c8898" stroke-width="0.9"/>
<circle cx="290.60" cy="704.40" r="4.60" fill="#f6e8d6" stroke="#7c8898" stroke-width="0.9"/>
<path d="M307.90,716.00 V714.00 A5.0,5.0 0 0 1 312.90,709.00 H315.30 A5.0,5.0 0 0 1 320.30,714.00 V716.00 Z" fill="#f6e8d6" stroke="#7c8898" stroke-width="0.9"/>
<circle cx="314.10" cy="704.40" r="4.60" fill="#f6e8d6" stroke="#7c8898" stroke-width="0.9"/>
<path d="M295.20,717.60 V714.60 A5.0,5.0 0 0 1 300.20,709.60 H304.60 A5.0,5.0 0 0 1 309.60,714.60 V717.60 Z" fill="#f6e8d6" stroke="#7c8898" stroke-width="0.9"/>
<circle cx="302.40" cy="704.20" r="5.10" fill="#f6e8d6" stroke="#7c8898" stroke-width="0.9"/>
<radialGradient id="ng" cx="50%" cy="45%" r="60%"><stop offset="0" stop-color="#3a3c42"/><stop offset="1" stop-color="#0e0e10"/></radialGradient>
<rect x="398.30" y="683.20" width="7.90" height="7.90" fill="url(#ng)" stroke="none" stroke-width="0" rx="0" />
<circle cx="401.21" cy="685.09" r="0.71" fill="#a0a4aa" fill-opacity="0.6"/>
<circle cx="399.73" cy="687.36" r="0.55" fill="#a0a4aa" fill-opacity="0.6"/>
<circle cx="399.64" cy="687.19" r="0.37" fill="#a0a4aa" fill-opacity="0.6"/>
<circle cx="401.86" cy="684.61" r="0.40" fill="#a0a4aa" fill-opacity="0.6"/>
<circle cx="401.80" cy="689.08" r="0.42" fill="#a0a4aa" fill-opacity="0.6"/>
<circle cx="400.62" cy="687.90" r="0.87" fill="#a0a4aa" fill-opacity="0.6"/>
<circle cx="402.70" cy="686.54" r="0.89" fill="#a0a4aa" fill-opacity="0.6"/>
<rect x="407.40" y="683.20" width="7.90" height="7.90" fill="url(#ng)" stroke="none" stroke-width="0" rx="0" />
<circle cx="408.67" cy="689.26" r="0.51" fill="#a0a4aa" fill-opacity="0.6"/>
<circle cx="409.25" cy="684.89" r="0.52" fill="#a0a4aa" fill-opacity="0.6"/>
<circle cx="413.22" cy="685.27" r="0.67" fill="#a0a4aa" fill-opacity="0.6"/>
<circle cx="412.17" cy="686.40" r="0.65" fill="#a0a4aa" fill-opacity="0.6"/>
<circle cx="408.77" cy="684.55" r="0.46" fill="#a0a4aa" fill-opacity="0.6"/>
<circle cx="412.41" cy="686.72" r="0.52" fill="#a0a4aa" fill-opacity="0.6"/>
<circle cx="411.85" cy="686.87" r="0.51" fill="#a0a4aa" fill-opacity="0.6"/>
<rect x="416.50" y="683.20" width="7.90" height="7.90" fill="url(#ng)" stroke="none" stroke-width="0" rx="0" />
<circle cx="422.19" cy="688.32" r="0.48" fill="#a0a4aa" fill-opacity="0.6"/>
<circle cx="420.89" cy="687.30" r="0.83" fill="#a0a4aa" fill-opacity="0.6"/>
<circle cx="421.80" cy="685.90" r="0.89" fill="#a0a4aa" fill-opacity="0.6"/>
<circle cx="418.20" cy="686.67" r="0.77" fill="#a0a4aa" fill-opacity="0.6"/>
<circle cx="418.40" cy="687.08" r="0.37" fill="#a0a4aa" fill-opacity="0.6"/>
<circle cx="421.44" cy="688.71" r="0.67" fill="#a0a4aa" fill-opacity="0.6"/>
<circle cx="422.67" cy="686.05" r="0.73" fill="#a0a4aa" fill-opacity="0.6"/>
<rect x="425.60" y="683.20" width="7.90" height="7.90" fill="url(#ng)" stroke="none" stroke-width="0" rx="0" />
<circle cx="430.11" cy="687.62" r="0.60" fill="#a0a4aa" fill-opacity="0.6"/>
<circle cx="431.56" cy="689.77" r="0.61" fill="#a0a4aa" fill-opacity="0.6"/>
<circle cx="430.52" cy="684.56" r="0.74" fill="#a0a4aa" fill-opacity="0.6"/>
<circle cx="430.42" cy="690.06" r="0.80" fill="#a0a4aa" fill-opacity="0.6"/>
<circle cx="428.28" cy="686.48" r="0.72" fill="#a0a4aa" fill-opacity="0.6"/>
<circle cx="426.73" cy="686.92" r="0.44" fill="#a0a4aa" fill-opacity="0.6"/>
<circle cx="427.29" cy="684.55" r="0.77" fill="#a0a4aa" fill-opacity="0.6"/>
<rect x="434.70" y="683.20" width="7.90" height="7.90" fill="url(#ng)" stroke="none" stroke-width="0" rx="0" />
<circle cx="436.46" cy="685.66" r="0.57" fill="#a0a4aa" fill-opacity="0.6"/>
<circle cx="440.84" cy="684.68" r="0.60" fill="#a0a4aa" fill-opacity="0.6"/>
<circle cx="438.94" cy="689.41" r="0.80" fill="#a0a4aa" fill-opacity="0.6"/>
<circle cx="440.80" cy="685.84" r="0.58" fill="#a0a4aa" fill-opacity="0.6"/>
<circle cx="437.82" cy="689.42" r="0.88" fill="#a0a4aa" fill-opacity="0.6"/>
<circle cx="436.59" cy="685.24" r="0.48" fill="#a0a4aa" fill-opacity="0.6"/>
<circle cx="437.08" cy="687.06" r="0.67" fill="#a0a4aa" fill-opacity="0.6"/>
<rect x="398.30" y="692.30" width="7.90" height="7.90" fill="url(#ng)" stroke="none" stroke-width="0" rx="0" />
<circle cx="400.85" cy="693.32" r="0.58" fill="#a0a4aa" fill-opacity="0.6"/>
<circle cx="401.48" cy="696.64" r="0.87" fill="#a0a4aa" fill-opacity="0.6"/>
<circle cx="403.37" cy="696.34" r="0.69" fill="#a0a4aa" fill-opacity="0.6"/>
<circle cx="403.29" cy="693.62" r="0.84" fill="#a0a4aa" fill-opacity="0.6"/>
<circle cx="403.90" cy="698.46" r="0.79" fill="#a0a4aa" fill-opacity="0.6"/>
<circle cx="401.62" cy="695.65" r="0.41" fill="#a0a4aa" fill-opacity="0.6"/>
<circle cx="403.04" cy="693.67" r="0.39" fill="#a0a4aa" fill-opacity="0.6"/>
<rect x="407.40" y="692.30" width="7.90" height="7.90" fill="url(#ng)" stroke="none" stroke-width="0" rx="0" />
<circle cx="409.63" cy="694.26" r="0.54" fill="#a0a4aa" fill-opacity="0.6"/>
<circle cx="408.71" cy="693.30" r="0.43" fill="#a0a4aa" fill-opacity="0.6"/>
<circle cx="409.00" cy="695.45" r="0.36" fill="#a0a4aa" fill-opacity="0.6"/>
<circle cx="413.56" cy="696.92" r="0.43" fill="#a0a4aa" fill-opacity="0.6"/>
<circle cx="409.89" cy="695.35" r="0.55" fill="#a0a4aa" fill-opacity="0.6"/>
<circle cx="409.12" cy="698.31" r="0.90" fill="#a0a4aa" fill-opacity="0.6"/>
<circle cx="411.15" cy="696.15" r="0.40" fill="#a0a4aa" fill-opacity="0.6"/>
<rect x="416.50" y="692.30" width="7.90" height="7.90" fill="url(#ng)" stroke="none" stroke-width="0" rx="0" />
<circle cx="418.10" cy="695.32" r="0.50" fill="#a0a4aa" fill-opacity="0.6"/>
<circle cx="422.39" cy="694.25" r="0.36" fill="#a0a4aa" fill-opacity="0.6"/>
<circle cx="423.11" cy="696.42" r="0.43" fill="#a0a4aa" fill-opacity="0.6"/>
<circle cx="420.70" cy="693.46" r="0.64" fill="#a0a4aa" fill-opacity="0.6"/>
<circle cx="423.27" cy="698.39" r="0.73" fill="#a0a4aa" fill-opacity="0.6"/>
<circle cx="419.04" cy="695.46" r="0.44" fill="#a0a4aa" fill-opacity="0.6"/>
<circle cx="422.05" cy="696.44" r="0.78" fill="#a0a4aa" fill-opacity="0.6"/>
<rect x="425.60" y="692.30" width="7.90" height="7.90" fill="url(#ng)" stroke="none" stroke-width="0" rx="0" />
<circle cx="428.55" cy="694.62" r="0.80" fill="#a0a4aa" fill-opacity="0.6"/>
<circle cx="432.41" cy="698.33" r="0.79" fill="#a0a4aa" fill-opacity="0.6"/>
<circle cx="431.43" cy="697.67" r="0.47" fill="#a0a4aa" fill-opacity="0.6"/>
<circle cx="429.65" cy="695.40" r="0.37" fill="#a0a4aa" fill-opacity="0.6"/>
<circle cx="426.76" cy="694.95" r="0.49" fill="#a0a4aa" fill-opacity="0.6"/>
<circle cx="430.69" cy="698.94" r="0.60" fill="#a0a4aa" fill-opacity="0.6"/>
<circle cx="432.13" cy="699.13" r="0.88" fill="#a0a4aa" fill-opacity="0.6"/>
<rect x="434.70" y="692.30" width="7.90" height="7.90" fill="url(#ng)" stroke="none" stroke-width="0" rx="0" />
<circle cx="437.85" cy="694.60" r="0.47" fill="#a0a4aa" fill-opacity="0.6"/>
<circle cx="436.86" cy="694.51" r="0.69" fill="#a0a4aa" fill-opacity="0.6"/>
<circle cx="441.01" cy="698.26" r="0.61" fill="#a0a4aa" fill-opacity="0.6"/>
<circle cx="439.55" cy="698.02" r="0.40" fill="#a0a4aa" fill-opacity="0.6"/>
<circle cx="439.60" cy="698.67" r="0.78" fill="#a0a4aa" fill-opacity="0.6"/>
<circle cx="440.13" cy="696.12" r="0.45" fill="#a0a4aa" fill-opacity="0.6"/>
<circle cx="440.36" cy="695.26" r="0.79" fill="#a0a4aa" fill-opacity="0.6"/>
<rect x="398.30" y="701.40" width="7.90" height="7.90" fill="url(#ng)" stroke="none" stroke-width="0" rx="0" />
<circle cx="405.03" cy="704.74" r="0.57" fill="#a0a4aa" fill-opacity="0.6"/>
<circle cx="404.89" cy="706.68" r="0.44" fill="#a0a4aa" fill-opacity="0.6"/>
<circle cx="400.05" cy="703.29" r="0.85" fill="#a0a4aa" fill-opacity="0.6"/>
<circle cx="404.06" cy="703.26" r="0.80" fill="#a0a4aa" fill-opacity="0.6"/>
<circle cx="405.08" cy="706.28" r="0.54" fill="#a0a4aa" fill-opacity="0.6"/>
<circle cx="402.54" cy="703.17" r="0.36" fill="#a0a4aa" fill-opacity="0.6"/>
<circle cx="405.03" cy="706.23" r="0.64" fill="#a0a4aa" fill-opacity="0.6"/>
<rect x="407.40" y="701.40" width="7.90" height="7.90" fill="url(#ng)" stroke="none" stroke-width="0" rx="0" />
<circle cx="413.91" cy="704.96" r="0.83" fill="#a0a4aa" fill-opacity="0.6"/>
<circle cx="413.27" cy="703.65" r="0.49" fill="#a0a4aa" fill-opacity="0.6"/>
<circle cx="410.13" cy="703.82" r="0.67" fill="#a0a4aa" fill-opacity="0.6"/>
<circle cx="409.93" cy="704.87" r="0.42" fill="#a0a4aa" fill-opacity="0.6"/>
<circle cx="413.77" cy="704.49" r="0.60" fill="#a0a4aa" fill-opacity="0.6"/>
<circle cx="411.84" cy="707.74" r="0.58" fill="#a0a4aa" fill-opacity="0.6"/>
<circle cx="413.81" cy="705.36" r="0.64" fill="#a0a4aa" fill-opacity="0.6"/>
<rect x="416.50" y="701.40" width="7.90" height="7.90" fill="url(#ng)" stroke="none" stroke-width="0" rx="0" />
<circle cx="420.59" cy="702.51" r="0.59" fill="#a0a4aa" fill-opacity="0.6"/>
<circle cx="418.58" cy="702.42" r="0.79" fill="#a0a4aa" fill-opacity="0.6"/>
<circle cx="418.52" cy="705.19" r="0.75" fill="#a0a4aa" fill-opacity="0.6"/>
<circle cx="420.78" cy="704.32" r="0.64" fill="#a0a4aa" fill-opacity="0.6"/>
<circle cx="420.78" cy="707.03" r="0.41" fill="#a0a4aa" fill-opacity="0.6"/>
<circle cx="420.81" cy="703.87" r="0.50" fill="#a0a4aa" fill-opacity="0.6"/>
<circle cx="422.06" cy="705.40" r="0.66" fill="#a0a4aa" fill-opacity="0.6"/>
<rect x="425.60" y="701.40" width="7.90" height="7.90" fill="url(#ng)" stroke="none" stroke-width="0" rx="0" />
<circle cx="431.08" cy="707.78" r="0.59" fill="#a0a4aa" fill-opacity="0.6"/>
<circle cx="430.21" cy="705.38" r="0.63" fill="#a0a4aa" fill-opacity="0.6"/>
<circle cx="430.69" cy="705.07" r="0.64" fill="#a0a4aa" fill-opacity="0.6"/>
<circle cx="429.42" cy="707.95" r="0.73" fill="#a0a4aa" fill-opacity="0.6"/>
<circle cx="431.77" cy="707.96" r="0.49" fill="#a0a4aa" fill-opacity="0.6"/>
<circle cx="429.90" cy="707.97" r="0.81" fill="#a0a4aa" fill-opacity="0.6"/>
<circle cx="427.41" cy="703.12" r="0.59" fill="#a0a4aa" fill-opacity="0.6"/>
<rect x="434.70" y="701.40" width="7.90" height="7.90" fill="url(#ng)" stroke="none" stroke-width="0" rx="0" />
<circle cx="436.13" cy="703.82" r="0.39" fill="#a0a4aa" fill-opacity="0.6"/>
<circle cx="439.65" cy="707.03" r="0.84" fill="#a0a4aa" fill-opacity="0.6"/>
<circle cx="436.61" cy="706.63" r="0.71" fill="#a0a4aa" fill-opacity="0.6"/>
<circle cx="436.54" cy="707.61" r="0.88" fill="#a0a4aa" fill-opacity="0.6"/>
<circle cx="437.00" cy="708.02" r="0.57" fill="#a0a4aa" fill-opacity="0.6"/>
<circle cx="438.57" cy="708.24" r="0.81" fill="#a0a4aa" fill-opacity="0.6"/>
<circle cx="436.65" cy="704.95" r="0.63" fill="#a0a4aa" fill-opacity="0.6"/>
<rect x="398.30" y="710.50" width="7.90" height="7.90" fill="url(#ng)" stroke="none" stroke-width="0" rx="0" />
<circle cx="401.30" cy="712.65" r="0.53" fill="#a0a4aa" fill-opacity="0.6"/>
<circle cx="403.56" cy="711.61" r="0.65" fill="#a0a4aa" fill-opacity="0.6"/>
<circle cx="401.90" cy="711.61" r="0.53" fill="#a0a4aa" fill-opacity="0.6"/>
<circle cx="402.98" cy="714.52" r="0.39" fill="#a0a4aa" fill-opacity="0.6"/>
<circle cx="405.11" cy="716.15" r="0.88" fill="#a0a4aa" fill-opacity="0.6"/>
<circle cx="399.92" cy="713.07" r="0.37" fill="#a0a4aa" fill-opacity="0.6"/>
<circle cx="403.90" cy="713.10" r="0.42" fill="#a0a4aa" fill-opacity="0.6"/>
<rect x="407.40" y="710.50" width="7.90" height="7.90" fill="url(#ng)" stroke="none" stroke-width="0" rx="0" />
<circle cx="410.89" cy="716.88" r="0.80" fill="#a0a4aa" fill-opacity="0.6"/>
<circle cx="409.93" cy="712.38" r="0.86" fill="#a0a4aa" fill-opacity="0.6"/>
<circle cx="411.77" cy="715.63" r="0.40" fill="#a0a4aa" fill-opacity="0.6"/>
<circle cx="408.74" cy="715.56" r="0.58" fill="#a0a4aa" fill-opacity="0.6"/>
<circle cx="408.83" cy="717.04" r="0.70" fill="#a0a4aa" fill-opacity="0.6"/>
<circle cx="413.13" cy="711.99" r="0.82" fill="#a0a4aa" fill-opacity="0.6"/>
<circle cx="408.79" cy="716.59" r="0.60" fill="#a0a4aa" fill-opacity="0.6"/>
<rect x="416.50" y="710.50" width="7.90" height="7.90" fill="url(#ng)" stroke="none" stroke-width="0" rx="0" />
<circle cx="419.50" cy="714.76" r="0.86" fill="#a0a4aa" fill-opacity="0.6"/>
<circle cx="419.08" cy="712.26" r="0.64" fill="#a0a4aa" fill-opacity="0.6"/>
<circle cx="418.91" cy="712.15" r="0.44" fill="#a0a4aa" fill-opacity="0.6"/>
<circle cx="417.80" cy="712.69" r="0.52" fill="#a0a4aa" fill-opacity="0.6"/>
<circle cx="419.30" cy="715.98" r="0.51" fill="#a0a4aa" fill-opacity="0.6"/>
<circle cx="420.45" cy="712.55" r="0.54" fill="#a0a4aa" fill-opacity="0.6"/>
<circle cx="417.61" cy="712.98" r="0.36" fill="#a0a4aa" fill-opacity="0.6"/>
<rect x="425.60" y="710.50" width="7.90" height="7.90" fill="url(#ng)" stroke="none" stroke-width="0" rx="0" />
<circle cx="430.93" cy="714.75" r="0.45" fill="#a0a4aa" fill-opacity="0.6"/>
<circle cx="429.40" cy="717.01" r="0.41" fill="#a0a4aa" fill-opacity="0.6"/>
<circle cx="431.43" cy="714.05" r="0.62" fill="#a0a4aa" fill-opacity="0.6"/>
<circle cx="431.52" cy="713.82" r="0.63" fill="#a0a4aa" fill-opacity="0.6"/>
<circle cx="430.66" cy="717.30" r="0.54" fill="#a0a4aa" fill-opacity="0.6"/>
<circle cx="431.51" cy="715.67" r="0.70" fill="#a0a4aa" fill-opacity="0.6"/>
<circle cx="428.99" cy="713.55" r="0.38" fill="#a0a4aa" fill-opacity="0.6"/>
<rect x="434.70" y="710.50" width="7.90" height="7.90" fill="url(#ng)" stroke="none" stroke-width="0" rx="0" />
<circle cx="436.47" cy="711.92" r="0.76" fill="#a0a4aa" fill-opacity="0.6"/>
<circle cx="437.21" cy="712.46" r="0.40" fill="#a0a4aa" fill-opacity="0.6"/>
<circle cx="440.66" cy="716.64" r="0.72" fill="#a0a4aa" fill-opacity="0.6"/>
<circle cx="437.36" cy="712.93" r="0.51" fill="#a0a4aa" fill-opacity="0.6"/>
<circle cx="438.41" cy="712.43" r="0.60" fill="#a0a4aa" fill-opacity="0.6"/>
<circle cx="437.25" cy="717.17" r="0.88" fill="#a0a4aa" fill-opacity="0.6"/>
<circle cx="438.93" cy="712.94" r="0.88" fill="#a0a4aa" fill-opacity="0.6"/>
<line x1="303.50" y1="718.50" x2="303.50" y2="759.00" stroke="#858585" stroke-width="1" />
<path d="M303.5,761.8 L301.3,757.8 L303.5,758.8 L305.7,757.8Z" fill="#858585"/>
<rect x="270.10" y="762.00" width="67.50" height="41.00" fill="#dbe5f6" stroke="none" stroke-width="0" rx="5.5" />
<text x="303.60" y="779.60" font-size="11.8" text-anchor="middle" fill="#262626" >ACR</text>
<text x="304.00" y="793.80" font-size="11.8" text-anchor="middle" fill="#262626" >Guildlines</text>
<line x1="337.60" y1="782.50" x2="383.00" y2="782.50" stroke="#858585" stroke-width="1" />
<path d="M385.8,782.5 L381.8,780.3 L382.8,782.5 L381.8,784.7Z" fill="#858585"/>
<rect x="385.80" y="761.00" width="68.60" height="41.50" fill="#dbe5f6" stroke="none" stroke-width="0" rx="5.5" />
<text x="420.30" y="785.80" font-size="11.9" text-anchor="middle" fill="#262626" >ThyGPT</text>
<line x1="303.50" y1="803.00" x2="303.50" y2="860.50" stroke="#858585" stroke-width="1" />
<path d="M303.5,863.3 L301.3,859.3 L303.5,860.3 L305.7,859.3Z" fill="#858585"/>
<line x1="420.50" y1="802.50" x2="420.50" y2="860.50" stroke="#858585" stroke-width="1" />
<path d="M420.5,863.3 L418.3,859.3 L420.5,860.3 L422.7,859.3Z" fill="#858585"/>
<text x="361.80" y="830.60" font-size="11" text-anchor="middle" fill="#262626" >malignant nodules</text>
<text x="361.40" y="843.60" font-size="11" text-anchor="middle" fill="#262626" >(9606 diagnoses)</text>
<rect x="264.50" y="863.60" width="78.20" height="27.00" fill="#e4f6dc" stroke="none" stroke-width="0" rx="0" />
<rect x="380.90" y="863.60" width="78.10" height="27.00" fill="#e4f6dc" stroke="none" stroke-width="0" rx="0" />
<text x="304.30" y="880.90" font-size="11.9" text-anchor="middle" fill="#262626" >1116 (11.6%)</text>
<text x="420.50" y="880.90" font-size="11.9" text-anchor="middle" fill="#262626" >510 (5.3%)</text>
<text x="304.00" y="907.80" font-size="11.9" text-anchor="middle" fill="#262626" >missed malignant</text>
<text x="421.30" y="907.80" font-size="11.9" text-anchor="middle" fill="#262626" >missed malignant</text>
<g transform="translate(210.00,740.00) scale(0.0803)">
<path d="M175,482 C140,475 138,445 148,400 C162,338 190,292 238,290 C280,290 298,338 322,340 C346,338 372,290 410,290 C458,292 482,340 496,400 C506,445 508,475 478,484 C448,490 420,462 392,434 C364,404 342,384 322,384 C302,384 280,404 252,434 C224,462 204,488 175,482 Z" fill="none" stroke="#ea9a40" stroke-width="21"/>
<g transform="rotate(-46 360 215)">
<line x1="190" y1="215" x2="300" y2="215" stroke="#4f9a8c" stroke-width="9"/>
<rect x="300" y="192" width="130" height="46" fill="#fff" stroke="#4f9a8c" stroke-width="10"/>
<line x1="430" y1="215" x2="470" y2="215" stroke="#4f9a8c" stroke-width="12"/>
<line x1="470" y1="185" x2="470" y2="245" stroke="#4f9a8c" stroke-width="14"/>
<line x1="330" y1="195" x2="330" y2="210" stroke="#4f9a8c" stroke-width="6"/>
<line x1="360" y1="195" x2="360" y2="210" stroke="#4f9a8c" stroke-width="6"/>
<line x1="390" y1="195" x2="390" y2="210" stroke="#4f9a8c" stroke-width="6"/>
</g>
<circle cx="225" cy="372" r="17" fill="#5a7a7a"/>
</g>
<g transform="translate(462.10,739.20) scale(0.0803)">
<path d="M175,482 C140,475 138,445 148,400 C162,338 190,292 238,290 C280,290 298,338 322,340 C346,338 372,290 410,290 C458,292 482,340 496,400 C506,445 508,475 478,484 C448,490 420,462 392,434 C364,404 342,384 322,384 C302,384 280,404 252,434 C224,462 204,488 175,482 Z" fill="none" stroke="#ea9a40" stroke-width="21"/>
<g transform="rotate(-46 360 215)">
<line x1="190" y1="215" x2="300" y2="215" stroke="#4f9a8c" stroke-width="9"/>
<rect x="300" y="192" width="130" height="46" fill="#fff" stroke="#4f9a8c" stroke-width="10"/>
<line x1="430" y1="215" x2="470" y2="215" stroke="#4f9a8c" stroke-width="12"/>
<line x1="470" y1="185" x2="470" y2="245" stroke="#4f9a8c" stroke-width="14"/>
<line x1="330" y1="195" x2="330" y2="210" stroke="#4f9a8c" stroke-width="6"/>
<line x1="360" y1="195" x2="360" y2="210" stroke="#4f9a8c" stroke-width="6"/>
<line x1="390" y1="195" x2="390" y2="210" stroke="#4f9a8c" stroke-width="6"/>
</g>
<circle cx="225" cy="372" r="17" fill="#5a7a7a"/>
</g>
<text x="237.00" y="797.00" font-size="11.8" text-anchor="middle" fill="#262626" >FNA?</text>
<text x="490.50" y="797.80" font-size="11.8" text-anchor="middle" fill="#262626" >FNA?</text>
<text x="541.40" y="349.50" font-size="11.8" text-anchor="middle" textLength="96.00" lengthAdjust="spacingAndGlyphs" fill="#1a1a1a" >Malignant nodules</text>
</svg>
</body></html>
